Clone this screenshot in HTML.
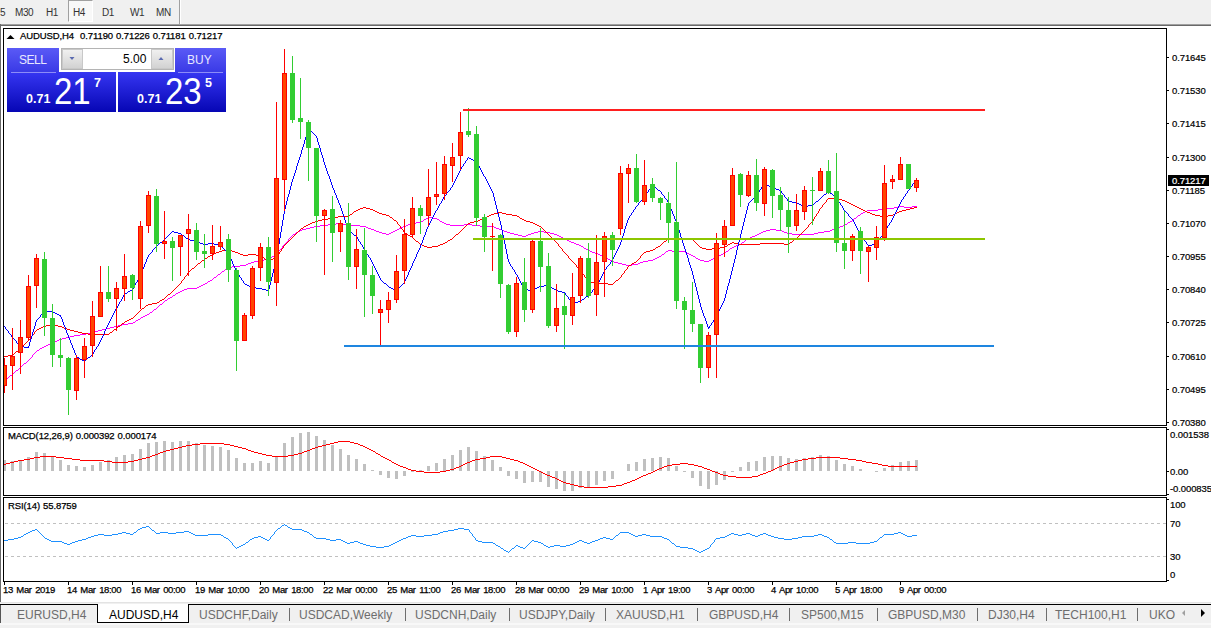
<!DOCTYPE html>
<html><head><meta charset="utf-8"><style>
*{margin:0;padding:0;box-sizing:border-box}
html,body{width:1211px;height:628px;overflow:hidden;background:#fff}
body{position:relative;font-family:"Liberation Sans",Arial,sans-serif;color:#000}
.abs{position:absolute}
#tb{position:absolute;left:0;top:0;width:1211px;height:24px;background:#f0f0f0}
.tf{position:absolute;top:7px;font-size:10px;letter-spacing:-0.4px;line-height:12px;color:#333}
#svg{position:absolute;left:0;top:0}
.pl{position:absolute;left:1172px;font-size:9.5px;letter-spacing:-0.1px;-webkit-text-stroke:0.2px currentColor;line-height:12px;white-space:nowrap}
.tl{position:absolute;top:584px;font-size:9.5px;letter-spacing:-0.35px;word-spacing:1.2px;-webkit-text-stroke:0.25px #000;line-height:12px;white-space:nowrap}
.ct{position:absolute;font-size:9.5px;letter-spacing:-0.1px;word-spacing:0.5px;-webkit-text-stroke:0.25px #000;line-height:12px;white-space:nowrap}
#tabs{position:absolute;left:0;top:602px;width:1211px;height:26px;background:#f0f0f0}
.tab{position:absolute;top:6px;font-size:12px;line-height:14px;color:#6d6d6d;white-space:nowrap}
.sep{position:absolute;top:6px;width:1px;height:13px;background:#6d6d6d}
.pb{position:absolute;font-size:12.5px;line-height:14px;color:#fff;font-weight:bold}
.big{position:absolute;font-size:33px;line-height:34px;color:#fff;transform:scaleY(1.1);transform-origin:0 100%}
</style></head><body>
<div id="tb">
<div class="tf" style="left:0px">5</div>
<div class="tf" style="left:15px">M30</div>
<div class="tf" style="left:46px">H1</div>
<div class="abs" style="left:68px;top:0;width:25px;height:22px;background:#f8f8f8;border-left:1px solid #a0a0a0;border-top:1px solid #a0a0a0;border-right:1px solid #fff;border-bottom:1px solid #fff"></div>
<div class="tf" style="left:73px">H4</div>
<div class="tf" style="left:102px">D1</div>
<div class="tf" style="left:130px">W1</div>
<div class="tf" style="left:156px">MN</div>
<div class="abs" style="left:179px;top:0;width:1px;height:24px;background:#a0a0a0"></div>
<div class="abs" style="left:180px;top:0;width:1px;height:24px;background:#fff"></div>
</div>
<svg id="svg" width="1211" height="628" viewBox="0 0 1211 628">
<defs><clipPath id="cm"><rect x="4" y="29" width="1162" height="396"/></clipPath><clipPath id="cd"><rect x="4" y="428" width="1162" height="67"/></clipPath><clipPath id="cr"><rect x="4" y="498" width="1162" height="83"/></clipPath></defs>
<g clip-path="url(#cm)" shape-rendering="crispEdges">
<path d="M51 343h2v1h-2zM203 284h2v1h-2zM246 264h2v1h-2zM622 264h4v1h-4zM632 264h6v1h-6zM320 225h8v1h-8zM346 225h14v1h-14zM406 225h2v1h-2zM450 225h14v1h-14zM472 225h8v1h-8zM843 225h2v1h-2zM278 251h1v1h-1zM590 251h2v1h-2zM666 251h2v1h-2zM672 251h13v1h-13zM726 251h2v1h-2zM240 265h6v1h-6zM626 265h6v1h-6zM293 234h2v1h-2zM386 234h3v1h-3zM514 234h4v1h-4zM528 234h3v1h-3zM554 234h3v1h-3zM757 234h2v1h-2zM792 234h22v1h-22zM216 276h1v1h-1zM310 227h4v1h-4zM366 227h2v1h-2zM401 227h2v1h-2zM494 227h2v1h-2zM838 227h2v1h-2zM298 231h2v1h-2zM376 231h3v1h-3zM393 231h2v1h-2zM504 231h3v1h-3zM538 231h6v1h-6zM763 231h3v1h-3zM782 231h2v1h-2zM824 231h6v1h-6zM86 333h4v1h-4zM277 253h1v1h-1zM595 253h3v1h-3zM664 253h1v1h-1zM687 253h2v1h-2zM723 253h2v1h-2zM208 281h2v1h-2zM286 242h1v1h-1zM571 242h3v1h-3zM742 242h2v1h-2zM46 345h2v1h-2zM145 315h2v1h-2zM176 293h2v1h-2zM220 273h1v1h-1zM882 208h12v1h-12zM184 289h3v1h-3zM80 334h6v1h-6zM314 226h6v1h-6zM360 226h6v1h-6zM403 226h3v1h-3zM480 226h14v1h-14zM840 226h3v1h-3zM19 368h1v1h-1zM254 261h4v1h-4zM612 261h2v1h-2zM643 261h5v1h-5zM704 261h5v1h-5zM224 270h1v1h-1zM8 377h1v1h-1zM296 232h2v1h-2zM379 232h3v1h-3zM391 232h2v1h-2zM507 232h3v1h-3zM534 232h4v1h-4zM544 232h6v1h-6zM761 232h2v1h-2zM784 232h3v1h-3zM818 232h6v1h-6zM276 254h1v1h-1zM598 254h2v1h-2zM662 254h2v1h-2zM689 254h2v1h-2zM721 254h2v1h-2zM300 230h2v1h-2zM374 230h2v1h-2zM395 230h2v1h-2zM502 230h2v1h-2zM766 230h4v1h-4zM776 230h6v1h-6zM830 230h2v1h-2zM264 259h5v1h-5zM608 259h2v1h-2zM653 259h2v1h-2zM698 259h2v1h-2zM711 259h2v1h-2zM295 233h1v1h-1zM382 233h4v1h-4zM389 233h2v1h-2zM510 233h4v1h-4zM531 233h3v1h-3zM550 233h4v1h-4zM759 233h2v1h-2zM787 233h5v1h-5zM814 233h4v1h-4zM232 266h8v1h-8zM12 374h1v1h-1zM258 260h6v1h-6zM610 260h2v1h-2zM648 260h5v1h-5zM700 260h4v1h-4zM709 260h2v1h-2zM66 337h4v1h-4zM42 347h2v1h-2zM306 228h4v1h-4zM368 228h3v1h-3zM399 228h2v1h-2zM496 228h3v1h-3zM835 228h3v1h-3zM199 286h2v1h-2zM272 256h2v1h-2zM603 256h2v1h-2zM659 256h2v1h-2zM693 256h2v1h-2zM717 256h2v1h-2zM251 262h3v1h-3zM614 262h4v1h-4zM640 262h3v1h-3zM328 224h8v1h-8zM342 224h4v1h-4zM408 224h3v1h-3zM446 224h4v1h-4zM464 224h8v1h-8zM845 224h2v1h-2zM278 252h1v1h-1zM592 252h3v1h-3zM665 252h1v1h-1zM685 252h2v1h-2zM725 252h1v1h-1zM168 298h2v1h-2zM106 328h4v1h-4zM281 248h1v1h-1zM584 248h2v1h-2zM730 248h2v1h-2zM898 206h6v1h-6zM912 206h5v1h-5zM74 335h6v1h-6zM878 209h4v1h-4zM150 312h2v1h-2zM428 217h4v1h-4zM856 217h1v1h-1zM187 288h10v1h-10zM141 317h2v1h-2zM173 295h2v1h-2zM35 352h1v1h-1zM133 322h2v1h-2zM165 300h2v1h-2zM867 210h11v1h-11zM154 309h2v1h-2zM302 229h4v1h-4zM371 229h3v1h-3zM397 229h2v1h-2zM499 229h3v1h-3zM770 229h6v1h-6zM832 229h3v1h-3zM284 244h1v1h-1zM576 244h3v1h-3zM739 244h2v1h-2zM423 220h1v1h-1zM439 220h1v1h-1zM852 220h1v1h-1zM426 218h2v1h-2zM432 218h5v1h-5zM854 218h2v1h-2zM287 241h1v1h-1zM569 241h2v1h-2zM744 241h1v1h-1zM336 223h6v1h-6zM411 223h5v1h-5zM444 223h2v1h-2zM847 223h1v1h-1zM114 326h4v1h-4zM158 306h1v1h-1zM30 358h1v1h-1zM62 338h4v1h-4zM269 258h2v1h-2zM607 258h1v1h-1zM655 258h2v1h-2zM696 258h2v1h-2zM713 258h2v1h-2zM23 364h1v1h-1zM248 263h3v1h-3zM618 263h4v1h-4zM638 263h2v1h-2zM285 243h1v1h-1zM574 243h2v1h-2zM741 243h1v1h-1zM894 207h4v1h-4zM904 207h8v1h-8zM288 239h1v1h-1zM565 239h2v1h-2zM746 239h2v1h-2zM292 235h1v1h-1zM518 235h4v1h-4zM526 235h2v1h-2zM557 235h2v1h-2zM755 235h2v1h-2zM288 240h1v1h-1zM567 240h2v1h-2zM745 240h1v1h-1zM39 349h1v1h-1zM138 319h2v1h-2zM274 255h2v1h-2zM600 255h3v1h-3zM661 255h1v1h-1zM691 255h2v1h-2zM719 255h2v1h-2zM94 331h4v1h-4zM290 237h1v1h-1zM561 237h2v1h-2zM750 237h2v1h-2zM291 236h1v1h-1zM522 236h4v1h-4zM559 236h2v1h-2zM752 236h3v1h-3zM48 344h3v1h-3zM228 267h4v1h-4zM218 274h2v1h-2zM421 221h2v1h-2zM440 221h2v1h-2zM850 221h2v1h-2zM57 340h2v1h-2zM289 238h1v1h-1zM563 238h2v1h-2zM748 238h2v1h-2zM283 245h1v1h-1zM579 245h2v1h-2zM736 245h3v1h-3zM122 324h6v1h-6zM222 271h2v1h-2zM27 361h1v1h-1zM102 329h4v1h-4zM210 280h2v1h-2zM865 211h2v1h-2zM282 246h1v1h-1zM581 246h2v1h-2zM734 246h2v1h-2zM10 375h2v1h-2zM214 277h2v1h-2zM271 257h1v1h-1zM605 257h2v1h-2zM657 257h2v1h-2zM695 257h1v1h-1zM715 257h2v1h-2zM279 250h1v1h-1zM588 250h2v1h-2zM668 250h4v1h-4zM728 250h1v1h-1zM424 219h2v1h-2zM437 219h2v1h-2zM853 219h1v1h-1zM14 372h1v1h-1zM90 332h4v1h-4zM18 369h1v1h-1zM33 354h1v1h-1zM70 336h4v1h-4zM128 323h5v1h-5zM44 346h2v1h-2zM280 249h1v1h-1zM586 249h2v1h-2zM729 249h1v1h-1zM282 247h1v1h-1zM583 247h1v1h-1zM732 247h2v1h-2zM207 282h1v1h-1zM861 213h2v1h-2zM59 339h3v1h-3zM21 366h1v1h-1zM160 304h2v1h-2zM149 313h1v1h-1zM24 363h2v1h-2zM416 222h5v1h-5zM442 222h2v1h-2zM848 222h2v1h-2zM55 341h2v1h-2zM118 325h4v1h-4zM98 330h4v1h-4zM136 320h2v1h-2zM40 348h2v1h-2zM226 268h2v1h-2zM37 350h2v1h-2zM110 327h4v1h-4zM858 215h2v1h-2zM164 301h1v1h-1zM5 379h1v1h-1zM32 356h1v1h-1zM863 212h2v1h-2zM29 359h1v1h-1zM213 278h1v1h-1zM147 314h2v1h-2zM205 283h2v1h-2zM182 290h2v1h-2zM217 275h1v1h-1zM16 370h2v1h-2zM32 355h1v1h-1zM162 303h1v1h-1zM860 214h1v1h-1zM197 287h2v1h-2zM143 316h2v1h-2zM201 285h2v1h-2zM178 292h2v1h-2zM135 321h1v1h-1zM221 272h1v1h-1zM170 297h2v1h-2zM53 342h2v1h-2zM20 367h1v1h-1zM6 378h2v1h-2zM31 357h1v1h-1zM172 296h1v1h-1zM153 310h1v1h-1zM180 291h2v1h-2zM157 307h1v1h-1zM212 279h1v1h-1zM22 365h1v1h-1zM26 362h1v1h-1zM15 371h1v1h-1zM34 353h1v1h-1zM9 376h1v1h-1zM225 269h1v1h-1zM857 216h1v1h-1zM13 373h1v1h-1zM152 311h1v1h-1zM156 308h1v1h-1zM36 351h1v1h-1zM159 305h1v1h-1zM163 302h1v1h-1zM140 318h1v1h-1zM175 294h1v1h-1zM28 360h1v1h-1zM4 380h1v1h-1zM167 299h1v1h-1z" fill="#ff00ff"/>
<path d="M189 271h1v1h-1zM581 271h1v1h-1zM624 271h1v1h-1zM210 255h2v1h-2zM243 255h5v1h-5zM256 255h5v1h-5zM277 255h1v1h-1zM567 255h1v1h-1zM641 255h1v1h-1zM179 284h1v1h-1zM608 284h5v1h-5zM219 251h3v1h-3zM232 251h3v1h-3zM280 251h1v1h-1zM563 251h1v1h-1zM646 251h4v1h-4zM287 242h1v1h-1zM418 242h1v1h-1zM445 242h2v1h-2zM556 242h1v1h-1zM663 242h1v1h-1zM695 242h1v1h-1zM732 242h2v1h-2zM790 242h2v1h-2zM185 276h1v1h-1zM584 276h1v1h-1zM621 276h1v1h-1zM286 243h1v1h-1zM419 243h1v1h-1zM443 243h2v1h-2zM557 243h1v1h-1zM662 243h1v1h-1zM696 243h1v1h-1zM730 243h2v1h-2zM734 243h4v1h-4zM760 243h24v1h-24zM789 243h1v1h-1zM24 344h1v1h-1zM289 240h1v1h-1zM415 240h1v1h-1zM448 240h2v1h-2zM554 240h1v1h-1zM666 240h1v1h-1zM693 240h1v1h-1zM793 240h1v1h-1zM360 208h3v1h-3zM366 208h4v1h-4zM820 208h1v1h-1zM859 208h2v1h-2zM910 208h4v1h-4zM295 234h1v1h-1zM407 234h1v1h-1zM456 234h2v1h-2zM548 234h1v1h-1zM800 234h1v1h-1zM299 230h1v1h-1zM403 230h1v1h-1zM461 230h1v1h-1zM544 230h1v1h-1zM804 230h1v1h-1zM290 239h1v1h-1zM414 239h1v1h-1zM450 239h2v1h-2zM553 239h1v1h-1zM667 239h1v1h-1zM688 239h5v1h-5zM794 239h2v1h-2zM181 281h1v1h-1zM588 281h2v1h-2zM615 281h1v1h-1zM184 277h1v1h-1zM585 277h1v1h-1zM620 277h1v1h-1zM282 248h1v1h-1zM561 248h1v1h-1zM655 248h1v1h-1zM702 248h4v1h-4zM712 248h8v1h-8zM294 235h1v1h-1zM408 235h2v1h-2zM455 235h1v1h-1zM549 235h1v1h-1zM799 235h1v1h-1zM338 216h11v1h-11zM389 216h1v1h-1zM487 216h2v1h-2zM517 216h2v1h-2zM815 216h1v1h-1zM880 216h8v1h-8zM283 247h1v1h-1zM427 247h5v1h-5zM560 247h1v1h-1zM656 247h2v1h-2zM700 247h2v1h-2zM720 247h5v1h-5zM212 254h2v1h-2zM240 254h3v1h-3zM248 254h8v1h-8zM278 254h1v1h-1zM566 254h1v1h-1zM642 254h1v1h-1zM35 331h1v1h-1zM74 331h4v1h-4zM112 331h1v1h-1zM8 355h5v1h-5zM285 244h1v1h-1zM420 244h2v1h-2zM440 244h3v1h-3zM558 244h1v1h-1zM661 244h1v1h-1zM697 244h1v1h-1zM728 244h2v1h-2zM738 244h22v1h-22zM784 244h5v1h-5zM828 198h10v1h-10zM178 285h1v1h-1zM283 246h1v1h-1zM424 246h3v1h-3zM432 246h6v1h-6zM559 246h1v1h-1zM658 246h2v1h-2zM699 246h1v1h-1zM725 246h2v1h-2zM36 330h1v1h-1zM70 330h4v1h-4zM113 330h1v1h-1zM350 214h2v1h-2zM382 214h4v1h-4zM491 214h3v1h-3zM506 214h6v1h-6zM816 214h1v1h-1zM872 214h3v1h-3zM893 214h2v1h-2zM226 249h4v1h-4zM281 249h1v1h-1zM562 249h1v1h-1zM653 249h2v1h-2zM706 249h6v1h-6zM322 219h6v1h-6zM393 219h1v1h-1zM480 219h3v1h-3zM522 219h2v1h-2zM813 219h1v1h-1zM300 229h1v1h-1zM402 229h1v1h-1zM462 229h1v1h-1zM543 229h1v1h-1zM805 229h1v1h-1zM352 213h1v1h-1zM379 213h3v1h-3zM494 213h4v1h-4zM502 213h4v1h-4zM817 213h1v1h-1zM870 213h2v1h-2zM895 213h2v1h-2zM291 238h1v1h-1zM413 238h1v1h-1zM452 238h1v1h-1zM552 238h1v1h-1zM668 238h20v1h-20zM796 238h1v1h-1zM39 328h2v1h-2zM64 328h3v1h-3zM116 328h1v1h-1zM293 236h1v1h-1zM410 236h2v1h-2zM454 236h1v1h-1zM550 236h1v1h-1zM798 236h1v1h-1zM288 241h1v1h-1zM416 241h2v1h-2zM447 241h1v1h-1zM555 241h1v1h-1zM664 241h2v1h-2zM694 241h1v1h-1zM792 241h1v1h-1zM139 311h1v1h-1zM202 260h2v1h-2zM266 260h2v1h-2zM269 260h2v1h-2zM571 260h1v1h-1zM637 260h1v1h-1zM312 222h3v1h-3zM397 222h1v1h-1zM470 222h4v1h-4zM530 222h3v1h-3zM811 222h1v1h-1zM349 215h1v1h-1zM386 215h3v1h-3zM489 215h2v1h-2zM512 215h5v1h-5zM816 215h1v1h-1zM875 215h5v1h-5zM888 215h5v1h-5zM33 334h1v1h-1zM88 334h21v1h-21zM304 226h2v1h-2zM400 226h1v1h-1zM465 226h1v1h-1zM539 226h2v1h-2zM808 226h1v1h-1zM284 245h1v1h-1zM422 245h2v1h-2zM438 245h2v1h-2zM558 245h1v1h-1zM660 245h1v1h-1zM698 245h1v1h-1zM727 245h1v1h-1zM186 275h1v1h-1zM584 275h1v1h-1zM621 275h1v1h-1zM157 302h2v1h-2zM194 267h1v1h-1zM577 267h1v1h-1zM627 267h1v1h-1zM315 221h3v1h-3zM396 221h1v1h-1zM474 221h4v1h-4zM526 221h4v1h-4zM812 221h1v1h-1zM292 237h1v1h-1zM412 237h1v1h-1zM453 237h1v1h-1zM551 237h1v1h-1zM797 237h1v1h-1zM328 218h6v1h-6zM392 218h1v1h-1zM483 218h2v1h-2zM520 218h2v1h-2zM814 218h1v1h-1zM318 220h4v1h-4zM394 220h2v1h-2zM478 220h2v1h-2zM524 220h2v1h-2zM813 220h1v1h-1zM50 324h4v1h-4zM121 324h1v1h-1zM184 278h1v1h-1zM586 278h1v1h-1zM619 278h1v1h-1zM216 252h3v1h-3zM235 252h3v1h-3zM279 252h1v1h-1zM564 252h1v1h-1zM644 252h2v1h-2zM180 283h1v1h-1zM594 283h14v1h-14zM613 283h1v1h-1zM4 356h4v1h-4zM142 308h2v1h-2zM146 305h2v1h-2zM34 332h1v1h-1zM78 332h4v1h-4zM110 332h2v1h-2zM306 225h2v1h-2zM399 225h1v1h-1zM466 225h1v1h-1zM537 225h2v1h-2zM808 225h1v1h-1zM310 223h2v1h-2zM397 223h1v1h-1zM468 223h2v1h-2zM533 223h2v1h-2zM810 223h1v1h-1zM196 265h1v1h-1zM576 265h1v1h-1zM629 265h2v1h-2zM19 349h1v1h-1zM222 250h4v1h-4zM230 250h2v1h-2zM281 250h1v1h-1zM562 250h1v1h-1zM650 250h3v1h-3zM822 206h1v1h-1zM855 206h2v1h-2zM46 325h4v1h-4zM54 325h4v1h-4zM120 325h1v1h-1zM297 232h1v1h-1zM404 232h1v1h-1zM459 232h1v1h-1zM546 232h1v1h-1zM802 232h1v1h-1zM200 262h1v1h-1zM573 262h1v1h-1zM634 262h2v1h-2zM298 231h1v1h-1zM403 231h1v1h-1zM460 231h1v1h-1zM545 231h1v1h-1zM803 231h1v1h-1zM308 224h2v1h-2zM398 224h1v1h-1zM467 224h1v1h-1zM535 224h2v1h-2zM809 224h1v1h-1zM353 212h1v1h-1zM377 212h2v1h-2zM498 212h4v1h-4zM818 212h1v1h-1zM867 212h3v1h-3zM897 212h2v1h-2zM152 303h5v1h-5zM173 290h1v1h-1zM192 268h2v1h-2zM578 268h1v1h-1zM627 268h1v1h-1zM162 299h2v1h-2zM214 253h2v1h-2zM238 253h2v1h-2zM279 253h1v1h-1zM565 253h1v1h-1zM643 253h1v1h-1zM354 211h2v1h-2zM375 211h2v1h-2zM818 211h1v1h-1zM865 211h2v1h-2zM899 211h3v1h-3zM334 217h4v1h-4zM390 217h2v1h-2zM485 217h2v1h-2zM519 217h1v1h-1zM814 217h1v1h-1zM182 280h1v1h-1zM587 280h1v1h-1zM616 280h2v1h-2zM187 274h1v1h-1zM583 274h1v1h-1zM622 274h1v1h-1zM31 336h1v1h-1zM205 258h2v1h-2zM264 258h1v1h-1zM273 258h2v1h-2zM569 258h1v1h-1zM639 258h1v1h-1zM358 209h2v1h-2zM370 209h3v1h-3zM819 209h1v1h-1zM861 209h2v1h-2zM906 209h4v1h-4zM825 202h1v1h-1zM847 202h2v1h-2zM181 282h1v1h-1zM590 282h4v1h-4zM614 282h1v1h-1zM26 342h1v1h-1zM195 266h1v1h-1zM576 266h1v1h-1zM628 266h1v1h-1zM204 259h1v1h-1zM265 259h1v1h-1zM271 259h2v1h-2zM570 259h1v1h-1zM638 259h1v1h-1zM137 313h1v1h-1zM37 329h2v1h-2zM67 329h3v1h-3zM114 329h2v1h-2zM207 257h1v1h-1zM262 257h2v1h-2zM275 257h2v1h-2zM568 257h1v1h-1zM640 257h1v1h-1zM125 321h2v1h-2zM129 319h2v1h-2zM23 345h1v1h-1zM43 326h3v1h-3zM58 326h4v1h-4zM118 326h2v1h-2zM190 270h1v1h-1zM580 270h1v1h-1zM625 270h1v1h-1zM201 261h1v1h-1zM268 261h1v1h-1zM572 261h1v1h-1zM636 261h1v1h-1zM208 256h2v1h-2zM261 256h1v1h-1zM277 256h1v1h-1zM568 256h1v1h-1zM640 256h1v1h-1zM134 316h1v1h-1zM164 298h1v1h-1zM41 327h2v1h-2zM62 327h2v1h-2zM117 327h1v1h-1zM183 279h1v1h-1zM587 279h1v1h-1zM618 279h1v1h-1zM822 205h1v1h-1zM853 205h2v1h-2zM363 207h3v1h-3zM821 207h1v1h-1zM857 207h2v1h-2zM914 207h3v1h-3zM160 300h2v1h-2zM356 210h2v1h-2zM373 210h2v1h-2zM819 210h1v1h-1zM863 210h2v1h-2zM902 210h4v1h-4zM827 199h1v1h-1zM838 199h4v1h-4zM197 264h1v1h-1zM575 264h1v1h-1zM631 264h1v1h-1zM823 204h1v1h-1zM851 204h2v1h-2zM826 200h1v1h-1zM842 200h3v1h-3zM30 338h1v1h-1zM122 323h2v1h-2zM198 263h2v1h-2zM574 263h1v1h-1zM632 263h2v1h-2zM148 304h4v1h-4zM34 333h1v1h-1zM82 333h6v1h-6zM109 333h1v1h-1zM14 353h1v1h-1zM303 227h1v1h-1zM400 227h1v1h-1zM464 227h1v1h-1zM541 227h1v1h-1zM807 227h1v1h-1zM18 350h1v1h-1zM191 269h1v1h-1zM579 269h1v1h-1zM626 269h1v1h-1zM168 294h2v1h-2zM141 309h1v1h-1zM145 306h1v1h-1zM21 347h1v1h-1zM127 320h2v1h-2zM824 203h1v1h-1zM849 203h2v1h-2zM175 288h1v1h-1zM188 272h1v1h-1zM581 272h1v1h-1zM624 272h1v1h-1zM296 233h1v1h-1zM405 233h2v1h-2zM458 233h1v1h-1zM547 233h1v1h-1zM801 233h1v1h-1zM28 340h1v1h-1zM124 322h1v1h-1zM136 314h1v1h-1zM25 343h1v1h-1zM166 296h1v1h-1zM170 293h1v1h-1zM301 228h2v1h-2zM401 228h1v1h-1zM463 228h1v1h-1zM542 228h1v1h-1zM806 228h1v1h-1zM16 351h2v1h-2zM177 286h1v1h-1zM826 201h1v1h-1zM845 201h2v1h-2zM20 348h1v1h-1zM174 289h1v1h-1zM131 318h2v1h-2zM172 291h1v1h-1zM32 335h1v1h-1zM165 297h1v1h-1zM27 341h1v1h-1zM30 337h1v1h-1zM138 312h1v1h-1zM22 346h1v1h-1zM133 317h1v1h-1zM15 352h1v1h-1zM187 273h1v1h-1zM582 273h1v1h-1zM623 273h1v1h-1zM140 310h1v1h-1zM144 307h1v1h-1zM176 287h1v1h-1zM159 301h1v1h-1zM29 339h1v1h-1zM13 354h1v1h-1zM135 315h1v1h-1zM167 295h1v1h-1zM171 292h1v1h-1z" fill="#ff0000"/>
<path d="M295 170h1v1h-1zM326 170h1v1h-1zM460 170h1v1h-1zM481 170h1v1h-1zM171 232h1v1h-1zM174 232h4v1h-4zM280 232h1v1h-1zM350 232h2v1h-2zM425 232h1v1h-1zM502 232h1v1h-1zM624 232h1v1h-1zM679 232h1v1h-1zM741 232h1v1h-1zM859 232h1v1h-1zM883 232h1v1h-1zM36 321h1v1h-1zM62 321h1v1h-1zM109 321h1v1h-1zM706 321h1v1h-1zM713 321h1v1h-1zM288 196h1v1h-1zM336 196h1v1h-1zM444 196h1v1h-1zM493 196h1v1h-1zM644 196h1v1h-1zM664 196h1v1h-1zM755 196h1v1h-1zM784 196h1v1h-1zM822 196h1v1h-1zM834 196h2v1h-2zM904 196h1v1h-1zM42 313h1v1h-1zM55 313h2v1h-2zM113 313h1v1h-1zM703 313h1v1h-1zM717 313h1v1h-1zM289 192h1v1h-1zM334 192h1v1h-1zM447 192h1v1h-1zM492 192h1v1h-1zM647 192h1v1h-1zM661 192h1v1h-1zM758 192h1v1h-1zM781 192h1v1h-1zM827 192h1v1h-1zM829 192h1v1h-1zM907 192h1v1h-1zM141 273h1v1h-1zM237 273h1v1h-1zM272 273h1v1h-1zM377 273h1v1h-1zM408 273h1v1h-1zM515 273h1v1h-1zM603 273h1v1h-1zM692 273h1v1h-1zM731 273h1v1h-1zM286 201h1v1h-1zM338 201h1v1h-1zM441 201h1v1h-1zM495 201h1v1h-1zM640 201h1v1h-1zM667 201h1v1h-1zM750 201h1v1h-1zM788 201h4v1h-4zM816 201h2v1h-2zM838 201h1v1h-1zM901 201h1v1h-1zM285 208h1v1h-1zM341 208h1v1h-1zM437 208h1v1h-1zM496 208h1v1h-1zM635 208h1v1h-1zM670 208h1v1h-1zM747 208h1v1h-1zM843 208h1v1h-1zM897 208h1v1h-1zM284 209h1v1h-1zM341 209h1v1h-1zM437 209h1v1h-1zM497 209h1v1h-1zM634 209h1v1h-1zM671 209h1v1h-1zM747 209h1v1h-1zM843 209h1v1h-1zM897 209h1v1h-1zM159 243h1v1h-1zM200 243h3v1h-3zM208 243h6v1h-6zM279 243h1v1h-1zM360 243h1v1h-1zM421 243h1v1h-1zM504 243h1v1h-1zM620 243h1v1h-1zM683 243h1v1h-1zM738 243h1v1h-1zM866 243h1v1h-1zM877 243h1v1h-1zM299 157h1v1h-1zM322 157h1v1h-1zM468 157h1v1h-1zM307 131h1v1h-1zM311 131h1v1h-1zM121 300h1v1h-1zM570 300h1v1h-1zM581 300h1v1h-1zM699 300h1v1h-1zM724 300h1v1h-1zM282 225h1v1h-1zM346 225h1v1h-1zM428 225h1v1h-1zM501 225h1v1h-1zM626 225h1v1h-1zM677 225h1v1h-1zM743 225h1v1h-1zM855 225h1v1h-1zM888 225h1v1h-1zM146 260h1v1h-1zM231 260h1v1h-1zM276 260h1v1h-1zM371 260h1v1h-1zM414 260h1v1h-1zM508 260h1v1h-1zM612 260h1v1h-1zM688 260h1v1h-1zM734 260h1v1h-1zM283 218h1v1h-1zM344 218h1v1h-1zM432 218h1v1h-1zM499 218h1v1h-1zM628 218h1v1h-1zM674 218h1v1h-1zM744 218h1v1h-1zM851 218h1v1h-1zM892 218h1v1h-1zM145 263h1v1h-1zM232 263h1v1h-1zM275 263h1v1h-1zM372 263h1v1h-1zM412 263h1v1h-1zM509 263h1v1h-1zM610 263h1v1h-1zM689 263h1v1h-1zM733 263h1v1h-1zM149 254h1v1h-1zM228 254h1v1h-1zM277 254h1v1h-1zM367 254h1v1h-1zM416 254h1v1h-1zM507 254h1v1h-1zM615 254h1v1h-1zM686 254h1v1h-1zM736 254h1v1h-1zM158 244h1v1h-1zM203 244h5v1h-5zM214 244h4v1h-4zM278 244h1v1h-1zM361 244h1v1h-1zM421 244h1v1h-1zM505 244h1v1h-1zM620 244h1v1h-1zM683 244h1v1h-1zM738 244h1v1h-1zM867 244h1v1h-1zM872 244h5v1h-5zM307 133h1v1h-1zM313 133h1v1h-1zM287 199h1v1h-1zM337 199h1v1h-1zM442 199h1v1h-1zM494 199h1v1h-1zM642 199h1v1h-1zM666 199h1v1h-1zM752 199h1v1h-1zM787 199h1v1h-1zM819 199h1v1h-1zM837 199h1v1h-1zM902 199h1v1h-1zM134 286h1v1h-1zM249 286h2v1h-2zM269 286h1v1h-1zM388 286h1v1h-1zM400 286h1v1h-1zM522 286h1v1h-1zM539 286h5v1h-5zM549 286h2v1h-2zM596 286h1v1h-1zM695 286h1v1h-1zM727 286h1v1h-1zM122 298h1v1h-1zM568 298h1v1h-1zM584 298h1v1h-1zM698 298h1v1h-1zM724 298h1v1h-1zM168 235h1v1h-1zM182 235h2v1h-2zM280 235h1v1h-1zM354 235h2v1h-2zM424 235h1v1h-1zM503 235h1v1h-1zM623 235h1v1h-1zM680 235h1v1h-1zM740 235h1v1h-1zM860 235h1v1h-1zM882 235h1v1h-1zM130 290h2v1h-2zM266 290h3v1h-3zM395 290h2v1h-2zM528 290h5v1h-5zM556 290h2v1h-2zM592 290h1v1h-1zM696 290h1v1h-1zM726 290h1v1h-1zM117 307h1v1h-1zM701 307h1v1h-1zM720 307h1v1h-1zM133 287h1v1h-1zM251 287h5v1h-5zM269 287h1v1h-1zM389 287h2v1h-2zM399 287h1v1h-1zM523 287h1v1h-1zM537 287h2v1h-2zM551 287h1v1h-1zM595 287h1v1h-1zM696 287h1v1h-1zM727 287h1v1h-1zM162 241h1v1h-1zM194 241h4v1h-4zM279 241h1v1h-1zM359 241h1v1h-1zM422 241h1v1h-1zM504 241h1v1h-1zM621 241h1v1h-1zM682 241h1v1h-1zM739 241h1v1h-1zM865 241h1v1h-1zM878 241h1v1h-1zM152 251h1v1h-1zM226 251h1v1h-1zM277 251h1v1h-1zM365 251h1v1h-1zM418 251h1v1h-1zM506 251h1v1h-1zM616 251h1v1h-1zM685 251h1v1h-1zM736 251h1v1h-1zM20 346h4v1h-4zM28 346h1v1h-1zM72 346h1v1h-1zM97 346h1v1h-1zM285 206h1v1h-1zM340 206h1v1h-1zM438 206h1v1h-1zM496 206h1v1h-1zM636 206h1v1h-1zM670 206h1v1h-1zM747 206h1v1h-1zM803 206h5v1h-5zM842 206h1v1h-1zM898 206h1v1h-1zM296 168h1v1h-1zM326 168h1v1h-1zM461 168h1v1h-1zM480 168h1v1h-1zM35 325h1v1h-1zM64 325h1v1h-1zM107 325h1v1h-1zM707 325h1v1h-1zM710 325h1v1h-1zM304 141h1v1h-1zM317 141h1v1h-1zM122 297h1v1h-1zM568 297h1v1h-1zM585 297h1v1h-1zM698 297h1v1h-1zM725 297h1v1h-1zM172 231h2v1h-2zM281 231h1v1h-1zM349 231h1v1h-1zM426 231h1v1h-1zM502 231h1v1h-1zM624 231h1v1h-1zM679 231h1v1h-1zM741 231h1v1h-1zM858 231h1v1h-1zM884 231h1v1h-1zM128 291h2v1h-2zM558 291h4v1h-4zM592 291h1v1h-1zM697 291h1v1h-1zM726 291h1v1h-1zM140 274h1v1h-1zM238 274h1v1h-1zM272 274h1v1h-1zM378 274h1v1h-1zM408 274h1v1h-1zM516 274h1v1h-1zM602 274h1v1h-1zM692 274h1v1h-1zM731 274h1v1h-1zM282 223h1v1h-1zM346 223h1v1h-1zM429 223h1v1h-1zM500 223h1v1h-1zM626 223h1v1h-1zM676 223h1v1h-1zM743 223h1v1h-1zM854 223h1v1h-1zM889 223h1v1h-1zM287 197h1v1h-1zM336 197h1v1h-1zM443 197h1v1h-1zM494 197h1v1h-1zM643 197h1v1h-1zM664 197h1v1h-1zM754 197h1v1h-1zM785 197h1v1h-1zM821 197h1v1h-1zM836 197h1v1h-1zM903 197h1v1h-1zM286 202h1v1h-1zM338 202h1v1h-1zM441 202h1v1h-1zM495 202h1v1h-1zM639 202h1v1h-1zM668 202h1v1h-1zM749 202h1v1h-1zM792 202h5v1h-5zM815 202h1v1h-1zM839 202h1v1h-1zM900 202h1v1h-1zM163 240h1v1h-1zM190 240h4v1h-4zM279 240h1v1h-1zM358 240h1v1h-1zM422 240h1v1h-1zM504 240h1v1h-1zM621 240h1v1h-1zM682 240h1v1h-1zM739 240h1v1h-1zM864 240h1v1h-1zM878 240h1v1h-1zM36 320h1v1h-1zM62 320h1v1h-1zM110 320h1v1h-1zM705 320h1v1h-1zM713 320h1v1h-1zM294 175h1v1h-1zM328 175h1v1h-1zM457 175h1v1h-1zM483 175h1v1h-1zM286 204h1v1h-1zM339 204h1v1h-1zM439 204h1v1h-1zM495 204h1v1h-1zM638 204h1v1h-1zM669 204h1v1h-1zM748 204h1v1h-1zM799 204h2v1h-2zM813 204h1v1h-1zM840 204h1v1h-1zM899 204h1v1h-1zM290 187h1v1h-1zM332 187h1v1h-1zM451 187h1v1h-1zM490 187h1v1h-1zM651 187h1v1h-1zM654 187h2v1h-2zM761 187h1v1h-1zM771 187h3v1h-3zM910 187h1v1h-1zM160 242h2v1h-2zM198 242h2v1h-2zM279 242h1v1h-1zM360 242h1v1h-1zM422 242h1v1h-1zM504 242h1v1h-1zM620 242h1v1h-1zM682 242h1v1h-1zM738 242h1v1h-1zM866 242h1v1h-1zM877 242h1v1h-1zM140 275h1v1h-1zM239 275h1v1h-1zM272 275h1v1h-1zM378 275h1v1h-1zM407 275h1v1h-1zM517 275h1v1h-1zM602 275h1v1h-1zM693 275h1v1h-1zM730 275h1v1h-1zM39 317h1v1h-1zM61 317h1v1h-1zM111 317h1v1h-1zM704 317h1v1h-1zM715 317h1v1h-1zM9 333h1v1h-1zM32 333h1v1h-1zM67 333h1v1h-1zM104 333h1v1h-1zM143 268h1v1h-1zM235 268h1v1h-1zM274 268h1v1h-1zM375 268h1v1h-1zM410 268h1v1h-1zM512 268h1v1h-1zM606 268h1v1h-1zM691 268h1v1h-1zM732 268h1v1h-1zM166 237h1v1h-1zM185 237h1v1h-1zM280 237h1v1h-1zM357 237h1v1h-1zM423 237h1v1h-1zM503 237h1v1h-1zM622 237h1v1h-1zM681 237h1v1h-1zM740 237h1v1h-1zM862 237h1v1h-1zM880 237h1v1h-1zM10 334h1v1h-1zM32 334h1v1h-1zM67 334h1v1h-1zM103 334h1v1h-1zM136 282h1v1h-1zM243 282h1v1h-1zM270 282h1v1h-1zM383 282h1v1h-1zM404 282h1v1h-1zM520 282h1v1h-1zM598 282h1v1h-1zM694 282h1v1h-1zM729 282h1v1h-1zM148 256h1v1h-1zM229 256h1v1h-1zM276 256h1v1h-1zM368 256h1v1h-1zM416 256h1v1h-1zM507 256h1v1h-1zM614 256h1v1h-1zM687 256h1v1h-1zM735 256h1v1h-1zM132 289h1v1h-1zM262 289h4v1h-4zM268 289h1v1h-1zM393 289h2v1h-2zM397 289h1v1h-1zM524 289h4v1h-4zM533 289h2v1h-2zM554 289h2v1h-2zM593 289h1v1h-1zM696 289h1v1h-1zM727 289h1v1h-1zM137 280h1v1h-1zM242 280h1v1h-1zM271 280h1v1h-1zM381 280h1v1h-1zM405 280h1v1h-1zM519 280h1v1h-1zM599 280h1v1h-1zM694 280h1v1h-1zM729 280h1v1h-1zM281 227h1v1h-1zM347 227h1v1h-1zM427 227h1v1h-1zM501 227h1v1h-1zM625 227h1v1h-1zM678 227h1v1h-1zM742 227h1v1h-1zM856 227h1v1h-1zM887 227h1v1h-1zM115 309h1v1h-1zM701 309h1v1h-1zM719 309h1v1h-1zM127 292h1v1h-1zM562 292h3v1h-3zM591 292h1v1h-1zM697 292h1v1h-1zM726 292h1v1h-1zM5 328h1v1h-1zM34 328h1v1h-1zM65 328h1v1h-1zM106 328h1v1h-1zM708 328h1v1h-1zM150 253h1v1h-1zM228 253h1v1h-1zM277 253h1v1h-1zM366 253h1v1h-1zM417 253h1v1h-1zM506 253h1v1h-1zM615 253h1v1h-1zM686 253h1v1h-1zM736 253h1v1h-1zM170 233h1v1h-1zM178 233h3v1h-3zM280 233h1v1h-1zM352 233h1v1h-1zM425 233h1v1h-1zM502 233h1v1h-1zM623 233h1v1h-1zM680 233h1v1h-1zM741 233h1v1h-1zM859 233h1v1h-1zM883 233h1v1h-1zM302 147h1v1h-1zM319 147h1v1h-1zM293 178h1v1h-1zM329 178h1v1h-1zM456 178h1v1h-1zM485 178h1v1h-1zM296 167h1v1h-1zM325 167h1v1h-1zM461 167h1v1h-1zM479 167h1v1h-1zM284 211h1v1h-1zM342 211h1v1h-1zM435 211h1v1h-1zM497 211h1v1h-1zM633 211h1v1h-1zM672 211h1v1h-1zM746 211h1v1h-1zM845 211h1v1h-1zM896 211h1v1h-1zM282 224h1v1h-1zM346 224h1v1h-1zM429 224h1v1h-1zM500 224h1v1h-1zM626 224h1v1h-1zM677 224h1v1h-1zM743 224h1v1h-1zM855 224h1v1h-1zM889 224h1v1h-1zM287 198h1v1h-1zM337 198h1v1h-1zM443 198h1v1h-1zM494 198h1v1h-1zM642 198h1v1h-1zM665 198h1v1h-1zM753 198h1v1h-1zM786 198h1v1h-1zM820 198h1v1h-1zM837 198h1v1h-1zM903 198h1v1h-1zM283 217h1v1h-1zM344 217h1v1h-1zM432 217h1v1h-1zM499 217h1v1h-1zM629 217h1v1h-1zM674 217h1v1h-1zM745 217h1v1h-1zM850 217h1v1h-1zM893 217h1v1h-1zM285 205h1v1h-1zM340 205h1v1h-1zM439 205h1v1h-1zM496 205h1v1h-1zM637 205h1v1h-1zM669 205h1v1h-1zM748 205h1v1h-1zM801 205h2v1h-2zM808 205h5v1h-5zM841 205h1v1h-1zM899 205h1v1h-1zM291 182h1v1h-1zM331 182h1v1h-1zM454 182h1v1h-1zM487 182h1v1h-1zM914 182h1v1h-1zM35 323h1v1h-1zM63 323h1v1h-1zM108 323h1v1h-1zM706 323h1v1h-1zM711 323h1v1h-1zM282 222h1v1h-1zM345 222h1v1h-1zM430 222h1v1h-1zM500 222h1v1h-1zM627 222h1v1h-1zM676 222h1v1h-1zM743 222h1v1h-1zM854 222h1v1h-1zM890 222h1v1h-1zM283 215h1v1h-1zM343 215h1v1h-1zM433 215h1v1h-1zM498 215h1v1h-1zM630 215h1v1h-1zM673 215h1v1h-1zM745 215h1v1h-1zM848 215h1v1h-1zM894 215h1v1h-1zM304 140h1v1h-1zM317 140h1v1h-1zM290 186h1v1h-1zM332 186h1v1h-1zM452 186h1v1h-1zM489 186h1v1h-1zM651 186h1v1h-1zM653 186h1v1h-1zM762 186h1v1h-1zM769 186h2v1h-2zM911 186h1v1h-1zM281 226h1v1h-1zM347 226h1v1h-1zM428 226h1v1h-1zM501 226h1v1h-1zM625 226h1v1h-1zM677 226h1v1h-1zM742 226h1v1h-1zM856 226h1v1h-1zM887 226h1v1h-1zM147 257h1v1h-1zM230 257h1v1h-1zM276 257h1v1h-1zM369 257h1v1h-1zM415 257h1v1h-1zM507 257h1v1h-1zM613 257h1v1h-1zM687 257h1v1h-1zM735 257h1v1h-1zM289 193h1v1h-1zM335 193h1v1h-1zM446 193h1v1h-1zM493 193h1v1h-1zM646 193h1v1h-1zM661 193h1v1h-1zM757 193h1v1h-1zM782 193h1v1h-1zM826 193h1v1h-1zM830 193h2v1h-2zM906 193h1v1h-1zM134 285h1v1h-1zM247 285h2v1h-2zM269 285h1v1h-1zM387 285h1v1h-1zM401 285h1v1h-1zM522 285h1v1h-1zM544 285h5v1h-5zM597 285h1v1h-1zM695 285h1v1h-1zM728 285h1v1h-1zM301 150h1v1h-1zM320 150h1v1h-1zM11 336h1v1h-1zM31 336h1v1h-1zM68 336h1v1h-1zM102 336h1v1h-1zM144 264h1v1h-1zM233 264h1v1h-1zM275 264h1v1h-1zM373 264h1v1h-1zM412 264h1v1h-1zM510 264h1v1h-1zM609 264h1v1h-1zM689 264h1v1h-1zM733 264h1v1h-1zM120 301h1v1h-1zM571 301h1v1h-1zM578 301h3v1h-3zM699 301h1v1h-1zM723 301h1v1h-1zM290 188h1v1h-1zM333 188h1v1h-1zM450 188h1v1h-1zM490 188h1v1h-1zM650 188h1v1h-1zM656 188h1v1h-1zM761 188h1v1h-1zM774 188h2v1h-2zM909 188h1v1h-1zM289 191h1v1h-1zM334 191h1v1h-1zM448 191h1v1h-1zM492 191h1v1h-1zM648 191h1v1h-1zM660 191h1v1h-1zM759 191h1v1h-1zM781 191h1v1h-1zM828 191h1v1h-1zM907 191h1v1h-1zM167 236h1v1h-1zM184 236h1v1h-1zM280 236h1v1h-1zM356 236h1v1h-1zM424 236h1v1h-1zM503 236h1v1h-1zM622 236h1v1h-1zM680 236h1v1h-1zM740 236h1v1h-1zM861 236h1v1h-1zM881 236h1v1h-1zM118 304h1v1h-1zM700 304h1v1h-1zM722 304h1v1h-1zM288 194h1v1h-1zM335 194h1v1h-1zM446 194h1v1h-1zM493 194h1v1h-1zM645 194h1v1h-1zM662 194h1v1h-1zM757 194h1v1h-1zM783 194h1v1h-1zM824 194h2v1h-2zM832 194h1v1h-1zM905 194h1v1h-1zM283 216h1v1h-1zM343 216h1v1h-1zM433 216h1v1h-1zM498 216h1v1h-1zM629 216h1v1h-1zM674 216h1v1h-1zM745 216h1v1h-1zM849 216h1v1h-1zM893 216h1v1h-1zM135 283h1v1h-1zM244 283h1v1h-1zM270 283h1v1h-1zM384 283h2v1h-2zM403 283h1v1h-1zM521 283h1v1h-1zM598 283h1v1h-1zM695 283h1v1h-1zM728 283h1v1h-1zM282 221h1v1h-1zM345 221h1v1h-1zM430 221h1v1h-1zM500 221h1v1h-1zM627 221h1v1h-1zM676 221h1v1h-1zM744 221h1v1h-1zM853 221h1v1h-1zM891 221h1v1h-1zM142 271h1v1h-1zM236 271h1v1h-1zM273 271h1v1h-1zM376 271h1v1h-1zM409 271h1v1h-1zM514 271h1v1h-1zM604 271h1v1h-1zM692 271h1v1h-1zM731 271h1v1h-1zM16 342h1v1h-1zM29 342h1v1h-1zM70 342h1v1h-1zM99 342h1v1h-1zM165 238h1v1h-1zM186 238h2v1h-2zM279 238h1v1h-1zM357 238h1v1h-1zM423 238h1v1h-1zM503 238h1v1h-1zM622 238h1v1h-1zM681 238h1v1h-1zM739 238h1v1h-1zM862 238h1v1h-1zM880 238h1v1h-1zM296 169h1v1h-1zM326 169h1v1h-1zM460 169h1v1h-1zM480 169h1v1h-1zM80 359h2v1h-2zM86 359h1v1h-1zM13 338h1v1h-1zM31 338h1v1h-1zM69 338h1v1h-1zM101 338h1v1h-1zM144 266h1v1h-1zM234 266h1v1h-1zM274 266h1v1h-1zM374 266h1v1h-1zM411 266h1v1h-1zM511 266h1v1h-1zM607 266h1v1h-1zM690 266h1v1h-1zM733 266h1v1h-1zM4 326h1v1h-1zM34 326h1v1h-1zM64 326h1v1h-1zM107 326h1v1h-1zM707 326h1v1h-1zM709 326h1v1h-1zM141 272h1v1h-1zM237 272h1v1h-1zM273 272h1v1h-1zM377 272h1v1h-1zM408 272h1v1h-1zM515 272h1v1h-1zM603 272h1v1h-1zM692 272h1v1h-1zM731 272h1v1h-1zM287 200h1v1h-1zM338 200h1v1h-1zM442 200h1v1h-1zM494 200h1v1h-1zM641 200h1v1h-1zM667 200h1v1h-1zM751 200h1v1h-1zM787 200h1v1h-1zM818 200h1v1h-1zM838 200h1v1h-1zM901 200h1v1h-1zM292 180h1v1h-1zM330 180h1v1h-1zM455 180h1v1h-1zM486 180h1v1h-1zM915 180h1v1h-1zM44 311h9v1h-9zM114 311h1v1h-1zM702 311h1v1h-1zM718 311h1v1h-1zM282 220h1v1h-1zM345 220h1v1h-1zM431 220h1v1h-1zM499 220h1v1h-1zM627 220h1v1h-1zM675 220h1v1h-1zM744 220h1v1h-1zM853 220h1v1h-1zM891 220h1v1h-1zM135 284h1v1h-1zM245 284h2v1h-2zM270 284h1v1h-1zM386 284h1v1h-1zM402 284h1v1h-1zM521 284h1v1h-1zM597 284h1v1h-1zM695 284h1v1h-1zM728 284h1v1h-1zM74 352h1v1h-1zM93 352h1v1h-1zM288 195h1v1h-1zM336 195h1v1h-1zM445 195h1v1h-1zM493 195h1v1h-1zM645 195h1v1h-1zM663 195h1v1h-1zM756 195h1v1h-1zM784 195h1v1h-1zM823 195h1v1h-1zM833 195h1v1h-1zM905 195h1v1h-1zM305 137h1v1h-1zM316 137h1v1h-1zM16 341h1v1h-1zM30 341h1v1h-1zM70 341h1v1h-1zM100 341h1v1h-1zM152 250h1v1h-1zM225 250h1v1h-1zM277 250h1v1h-1zM365 250h1v1h-1zM418 250h1v1h-1zM506 250h1v1h-1zM617 250h1v1h-1zM685 250h1v1h-1zM736 250h1v1h-1zM19 345h1v1h-1zM29 345h1v1h-1zM72 345h1v1h-1zM98 345h1v1h-1zM289 190h1v1h-1zM334 190h1v1h-1zM449 190h1v1h-1zM491 190h1v1h-1zM648 190h1v1h-1zM658 190h2v1h-2zM759 190h1v1h-1zM779 190h2v1h-2zM908 190h1v1h-1zM138 279h1v1h-1zM241 279h1v1h-1zM271 279h1v1h-1zM380 279h1v1h-1zM405 279h1v1h-1zM519 279h1v1h-1zM600 279h1v1h-1zM694 279h1v1h-1zM729 279h1v1h-1zM133 288h1v1h-1zM256 288h6v1h-6zM269 288h1v1h-1zM391 288h2v1h-2zM398 288h1v1h-1zM523 288h1v1h-1zM535 288h2v1h-2zM552 288h2v1h-2zM594 288h1v1h-1zM696 288h1v1h-1zM727 288h1v1h-1zM295 171h1v1h-1zM327 171h1v1h-1zM459 171h1v1h-1zM481 171h1v1h-1zM142 269h1v1h-1zM235 269h1v1h-1zM273 269h1v1h-1zM375 269h1v1h-1zM410 269h1v1h-1zM513 269h1v1h-1zM605 269h1v1h-1zM691 269h1v1h-1zM732 269h1v1h-1zM123 296h1v1h-1zM567 296h1v1h-1zM586 296h2v1h-2zM698 296h1v1h-1zM725 296h1v1h-1zM281 230h1v1h-1zM348 230h1v1h-1zM426 230h1v1h-1zM502 230h1v1h-1zM624 230h1v1h-1zM679 230h1v1h-1zM741 230h1v1h-1zM858 230h1v1h-1zM885 230h1v1h-1zM291 185h1v1h-1zM332 185h1v1h-1zM452 185h1v1h-1zM489 185h1v1h-1zM652 185h1v1h-1zM763 185h1v1h-1zM767 185h2v1h-2zM912 185h1v1h-1zM8 332h1v1h-1zM32 332h1v1h-1zM66 332h1v1h-1zM104 332h1v1h-1zM143 267h1v1h-1zM234 267h1v1h-1zM274 267h1v1h-1zM374 267h1v1h-1zM411 267h1v1h-1zM512 267h1v1h-1zM606 267h1v1h-1zM690 267h1v1h-1zM732 267h1v1h-1zM299 159h1v1h-1zM323 159h1v1h-1zM467 159h1v1h-1zM471 159h2v1h-2zM148 255h1v1h-1zM229 255h1v1h-1zM277 255h1v1h-1zM368 255h1v1h-1zM416 255h1v1h-1zM507 255h1v1h-1zM614 255h1v1h-1zM687 255h1v1h-1zM735 255h1v1h-1zM7 330h1v1h-1zM33 330h1v1h-1zM66 330h1v1h-1zM105 330h1v1h-1zM5 327h1v1h-1zM34 327h1v1h-1zM65 327h1v1h-1zM106 327h1v1h-1zM708 327h2v1h-2zM300 156h1v1h-1zM322 156h1v1h-1zM285 207h1v1h-1zM340 207h1v1h-1zM438 207h1v1h-1zM496 207h1v1h-1zM635 207h1v1h-1zM670 207h1v1h-1zM747 207h1v1h-1zM842 207h1v1h-1zM898 207h1v1h-1zM296 166h1v1h-1zM325 166h1v1h-1zM462 166h1v1h-1zM479 166h1v1h-1zM146 259h1v1h-1zM231 259h1v1h-1zM276 259h1v1h-1zM370 259h1v1h-1zM414 259h1v1h-1zM508 259h1v1h-1zM612 259h1v1h-1zM688 259h1v1h-1zM734 259h1v1h-1zM286 203h1v1h-1zM339 203h1v1h-1zM440 203h1v1h-1zM495 203h1v1h-1zM638 203h1v1h-1zM668 203h1v1h-1zM748 203h1v1h-1zM797 203h2v1h-2zM814 203h1v1h-1zM840 203h1v1h-1zM900 203h1v1h-1zM40 316h1v1h-1zM60 316h1v1h-1zM112 316h1v1h-1zM704 316h1v1h-1zM716 316h1v1h-1zM139 276h1v1h-1zM239 276h1v1h-1zM272 276h1v1h-1zM379 276h1v1h-1zM407 276h1v1h-1zM517 276h1v1h-1zM601 276h1v1h-1zM693 276h1v1h-1zM730 276h1v1h-1zM283 214h1v1h-1zM343 214h1v1h-1zM434 214h1v1h-1zM498 214h1v1h-1zM631 214h1v1h-1zM673 214h1v1h-1zM745 214h1v1h-1zM848 214h1v1h-1zM894 214h1v1h-1zM11 335h1v1h-1zM32 335h1v1h-1zM68 335h1v1h-1zM103 335h1v1h-1zM119 303h1v1h-1zM572 303h2v1h-2zM700 303h1v1h-1zM722 303h1v1h-1zM12 337h1v1h-1zM31 337h1v1h-1zM68 337h1v1h-1zM102 337h1v1h-1zM298 161h1v1h-1zM323 161h1v1h-1zM465 161h1v1h-1zM475 161h2v1h-2zM291 184h1v1h-1zM331 184h1v1h-1zM453 184h1v1h-1zM488 184h1v1h-1zM763 184h1v1h-1zM765 184h2v1h-2zM912 184h1v1h-1zM75 354h1v1h-1zM92 354h1v1h-1zM281 229h1v1h-1zM348 229h1v1h-1zM426 229h1v1h-1zM501 229h1v1h-1zM624 229h1v1h-1zM678 229h1v1h-1zM742 229h1v1h-1zM857 229h1v1h-1zM885 229h1v1h-1zM137 281h1v1h-1zM243 281h1v1h-1zM270 281h1v1h-1zM382 281h1v1h-1zM404 281h1v1h-1zM520 281h1v1h-1zM599 281h1v1h-1zM694 281h1v1h-1zM729 281h1v1h-1zM125 293h2v1h-2zM565 293h1v1h-1zM590 293h1v1h-1zM697 293h1v1h-1zM726 293h1v1h-1zM138 278h1v1h-1zM241 278h1v1h-1zM271 278h1v1h-1zM380 278h1v1h-1zM406 278h1v1h-1zM518 278h1v1h-1zM600 278h1v1h-1zM693 278h1v1h-1zM730 278h1v1h-1zM302 149h1v1h-1zM320 149h1v1h-1zM38 318h1v1h-1zM61 318h1v1h-1zM111 318h1v1h-1zM705 318h1v1h-1zM715 318h1v1h-1zM151 252h1v1h-1zM227 252h1v1h-1zM277 252h1v1h-1zM366 252h1v1h-1zM417 252h1v1h-1zM506 252h1v1h-1zM616 252h1v1h-1zM686 252h1v1h-1zM736 252h1v1h-1zM284 213h1v1h-1zM342 213h1v1h-1zM434 213h1v1h-1zM498 213h1v1h-1zM631 213h1v1h-1zM672 213h1v1h-1zM746 213h1v1h-1zM847 213h1v1h-1zM895 213h1v1h-1zM118 305h1v1h-1zM700 305h1v1h-1zM721 305h1v1h-1zM294 174h1v1h-1zM328 174h1v1h-1zM458 174h1v1h-1zM483 174h1v1h-1zM281 228h1v1h-1zM347 228h1v1h-1zM427 228h1v1h-1zM501 228h1v1h-1zM625 228h1v1h-1zM678 228h1v1h-1zM742 228h1v1h-1zM857 228h1v1h-1zM886 228h1v1h-1zM82 360h2v1h-2zM85 360h1v1h-1zM8 331h1v1h-1zM33 331h1v1h-1zM66 331h1v1h-1zM104 331h1v1h-1zM119 302h1v1h-1zM571 302h1v1h-1zM574 302h4v1h-4zM699 302h1v1h-1zM723 302h1v1h-1zM43 312h1v1h-1zM53 312h2v1h-2zM114 312h1v1h-1zM702 312h1v1h-1zM718 312h1v1h-1zM301 153h1v1h-1zM321 153h1v1h-1zM284 212h1v1h-1zM342 212h1v1h-1zM435 212h1v1h-1zM497 212h1v1h-1zM632 212h1v1h-1zM672 212h1v1h-1zM746 212h1v1h-1zM846 212h1v1h-1zM895 212h1v1h-1zM164 239h1v1h-1zM188 239h2v1h-2zM279 239h1v1h-1zM358 239h1v1h-1zM423 239h1v1h-1zM503 239h1v1h-1zM621 239h1v1h-1zM681 239h1v1h-1zM739 239h1v1h-1zM863 239h1v1h-1zM879 239h1v1h-1zM37 319h1v1h-1zM62 319h1v1h-1zM110 319h1v1h-1zM705 319h1v1h-1zM714 319h1v1h-1zM301 152h1v1h-1zM321 152h1v1h-1zM117 306h1v1h-1zM700 306h1v1h-1zM721 306h1v1h-1zM35 322h1v1h-1zM63 322h1v1h-1zM109 322h1v1h-1zM706 322h1v1h-1zM712 322h1v1h-1zM154 248h1v1h-1zM223 248h1v1h-1zM278 248h1v1h-1zM363 248h1v1h-1zM419 248h1v1h-1zM505 248h1v1h-1zM618 248h1v1h-1zM684 248h1v1h-1zM737 248h1v1h-1zM147 258h1v1h-1zM230 258h1v1h-1zM276 258h1v1h-1zM370 258h1v1h-1zM415 258h1v1h-1zM507 258h1v1h-1zM613 258h1v1h-1zM688 258h1v1h-1zM735 258h1v1h-1zM157 245h1v1h-1zM218 245h3v1h-3zM278 245h1v1h-1zM362 245h1v1h-1zM420 245h1v1h-1zM505 245h1v1h-1zM619 245h1v1h-1zM683 245h1v1h-1zM738 245h1v1h-1zM868 245h4v1h-4zM153 249h1v1h-1zM224 249h1v1h-1zM278 249h1v1h-1zM364 249h1v1h-1zM419 249h1v1h-1zM506 249h1v1h-1zM617 249h1v1h-1zM685 249h1v1h-1zM737 249h1v1h-1zM18 344h1v1h-1zM29 344h1v1h-1zM71 344h1v1h-1zM98 344h1v1h-1zM139 277h1v1h-1zM240 277h1v1h-1zM271 277h1v1h-1zM379 277h1v1h-1zM406 277h1v1h-1zM518 277h1v1h-1zM601 277h1v1h-1zM693 277h1v1h-1zM730 277h1v1h-1zM74 351h1v1h-1zM94 351h1v1h-1zM77 357h2v1h-2zM88 357h2v1h-2zM284 210h1v1h-1zM341 210h1v1h-1zM436 210h1v1h-1zM497 210h1v1h-1zM633 210h1v1h-1zM671 210h1v1h-1zM746 210h1v1h-1zM844 210h1v1h-1zM896 210h1v1h-1zM300 154h1v1h-1zM321 154h1v1h-1zM6 329h1v1h-1zM33 329h1v1h-1zM65 329h1v1h-1zM105 329h1v1h-1zM283 219h1v1h-1zM344 219h1v1h-1zM431 219h1v1h-1zM499 219h1v1h-1zM628 219h1v1h-1zM675 219h1v1h-1zM744 219h1v1h-1zM852 219h1v1h-1zM892 219h1v1h-1zM293 177h1v1h-1zM329 177h1v1h-1zM456 177h1v1h-1zM485 177h1v1h-1zM142 270h1v1h-1zM236 270h1v1h-1zM273 270h1v1h-1zM376 270h1v1h-1zM409 270h1v1h-1zM514 270h1v1h-1zM604 270h1v1h-1zM691 270h1v1h-1zM732 270h1v1h-1zM300 155h1v1h-1zM322 155h1v1h-1zM146 261h1v1h-1zM232 261h1v1h-1zM275 261h1v1h-1zM371 261h1v1h-1zM413 261h1v1h-1zM508 261h1v1h-1zM611 261h1v1h-1zM688 261h1v1h-1zM734 261h1v1h-1zM304 142h1v1h-1zM318 142h1v1h-1zM116 308h1v1h-1zM701 308h1v1h-1zM720 308h1v1h-1zM35 324h1v1h-1zM63 324h1v1h-1zM108 324h1v1h-1zM707 324h1v1h-1zM711 324h1v1h-1zM156 246h1v1h-1zM221 246h1v1h-1zM278 246h1v1h-1zM362 246h1v1h-1zM420 246h1v1h-1zM505 246h1v1h-1zM619 246h1v1h-1zM684 246h1v1h-1zM737 246h1v1h-1zM115 310h1v1h-1zM702 310h1v1h-1zM719 310h1v1h-1zM303 144h1v1h-1zM318 144h1v1h-1zM169 234h1v1h-1zM181 234h1v1h-1zM280 234h1v1h-1zM353 234h1v1h-1zM425 234h1v1h-1zM502 234h1v1h-1zM623 234h1v1h-1zM680 234h1v1h-1zM740 234h1v1h-1zM860 234h1v1h-1zM882 234h1v1h-1zM144 265h1v1h-1zM233 265h1v1h-1zM274 265h1v1h-1zM373 265h1v1h-1zM412 265h1v1h-1zM510 265h1v1h-1zM608 265h1v1h-1zM690 265h1v1h-1zM733 265h1v1h-1zM291 183h1v1h-1zM331 183h1v1h-1zM453 183h1v1h-1zM488 183h1v1h-1zM764 183h1v1h-1zM913 183h1v1h-1zM84 361h1v1h-1zM76 356h1v1h-1zM90 356h1v1h-1zM155 247h1v1h-1zM222 247h1v1h-1zM278 247h1v1h-1zM363 247h1v1h-1zM420 247h1v1h-1zM505 247h1v1h-1zM618 247h1v1h-1zM684 247h1v1h-1zM737 247h1v1h-1zM297 163h1v1h-1zM324 163h1v1h-1zM464 163h1v1h-1zM477 163h1v1h-1zM306 134h1v1h-1zM314 134h1v1h-1zM14 339h1v1h-1zM30 339h1v1h-1zM69 339h1v1h-1zM101 339h1v1h-1zM292 179h1v1h-1zM330 179h1v1h-1zM455 179h1v1h-1zM486 179h1v1h-1zM916 179h1v1h-1zM123 295h1v1h-1zM566 295h1v1h-1zM588 295h1v1h-1zM698 295h1v1h-1zM725 295h1v1h-1zM290 189h1v1h-1zM333 189h1v1h-1zM450 189h1v1h-1zM491 189h1v1h-1zM649 189h1v1h-1zM657 189h1v1h-1zM760 189h1v1h-1zM776 189h3v1h-3zM909 189h1v1h-1zM292 181h1v1h-1zM330 181h1v1h-1zM454 181h1v1h-1zM487 181h1v1h-1zM915 181h1v1h-1zM75 353h1v1h-1zM93 353h1v1h-1zM17 343h1v1h-1zM29 343h1v1h-1zM71 343h1v1h-1zM99 343h1v1h-1zM295 172h1v1h-1zM327 172h1v1h-1zM459 172h1v1h-1zM482 172h1v1h-1zM294 173h1v1h-1zM327 173h1v1h-1zM458 173h1v1h-1zM482 173h1v1h-1zM303 146h1v1h-1zM319 146h1v1h-1zM124 294h1v1h-1zM565 294h1v1h-1zM589 294h1v1h-1zM697 294h1v1h-1zM725 294h1v1h-1zM298 162h1v1h-1zM324 162h1v1h-1zM465 162h1v1h-1zM477 162h1v1h-1zM76 355h1v1h-1zM91 355h1v1h-1zM15 340h1v1h-1zM30 340h1v1h-1zM70 340h1v1h-1zM100 340h1v1h-1zM145 262h1v1h-1zM232 262h1v1h-1zM275 262h1v1h-1zM372 262h1v1h-1zM413 262h1v1h-1zM509 262h1v1h-1zM610 262h1v1h-1zM689 262h1v1h-1zM734 262h1v1h-1zM24 347h5v1h-5zM72 347h1v1h-1zM96 347h1v1h-1zM293 176h1v1h-1zM329 176h1v1h-1zM457 176h1v1h-1zM484 176h1v1h-1zM73 349h1v1h-1zM95 349h1v1h-1zM306 136h1v1h-1zM316 136h1v1h-1zM303 145h1v1h-1zM319 145h1v1h-1zM304 143h1v1h-1zM318 143h1v1h-1zM121 299h1v1h-1zM569 299h1v1h-1zM582 299h2v1h-2zM699 299h1v1h-1zM724 299h1v1h-1zM307 132h1v1h-1zM312 132h1v1h-1zM297 164h1v1h-1zM324 164h1v1h-1zM463 164h1v1h-1zM478 164h1v1h-1zM40 315h1v1h-1zM59 315h2v1h-2zM112 315h1v1h-1zM703 315h1v1h-1zM716 315h1v1h-1zM298 160h1v1h-1zM323 160h1v1h-1zM466 160h1v1h-1zM473 160h2v1h-2zM306 135h1v1h-1zM315 135h1v1h-1zM79 358h1v1h-1zM87 358h1v1h-1zM74 350h1v1h-1zM94 350h1v1h-1zM41 314h1v1h-1zM57 314h2v1h-2zM113 314h1v1h-1zM703 314h1v1h-1zM717 314h1v1h-1zM305 138h1v1h-1zM317 138h1v1h-1zM297 165h1v1h-1zM325 165h1v1h-1zM463 165h1v1h-1zM478 165h1v1h-1zM302 148h1v1h-1zM320 148h1v1h-1zM299 158h1v1h-1zM323 158h1v1h-1zM467 158h1v1h-1zM469 158h2v1h-2zM308 128h1v1h-1zM73 348h1v1h-1zM96 348h1v1h-1zM307 130h1v1h-1zM310 130h1v1h-1zM305 139h1v1h-1zM317 139h1v1h-1zM308 129h2v1h-2zM301 151h1v1h-1zM320 151h1v1h-1z" fill="#0000ff"/>
<rect x="4" y="358" width="1" height="35" fill="#ff0000"/>
<rect x="2" y="365" width="5" height="21" fill="#ff0000"/>
<rect x="3" y="366" width="3" height="19" fill="#ff4500"/>
<rect x="12" y="328" width="1" height="62" fill="#ff0000"/>
<rect x="10" y="356" width="5" height="10" fill="#ff0000"/>
<rect x="11" y="357" width="3" height="8" fill="#ff4500"/>
<rect x="20" y="320" width="1" height="54" fill="#ff0000"/>
<rect x="18" y="337" width="5" height="16" fill="#ff0000"/>
<rect x="19" y="338" width="3" height="14" fill="#ff4500"/>
<rect x="28" y="275" width="1" height="65" fill="#ff0000"/>
<rect x="26" y="286" width="5" height="52" fill="#ff0000"/>
<rect x="27" y="287" width="3" height="50" fill="#ff4500"/>
<rect x="36" y="254" width="1" height="54" fill="#ff0000"/>
<rect x="34" y="258" width="5" height="28" fill="#ff0000"/>
<rect x="35" y="259" width="3" height="26" fill="#ff4500"/>
<rect x="44" y="252" width="1" height="84" fill="#32cd32"/>
<rect x="42" y="259" width="5" height="59" fill="#32cd32"/>
<rect x="52" y="304" width="1" height="63" fill="#32cd32"/>
<rect x="50" y="318" width="5" height="37" fill="#32cd32"/>
<rect x="60" y="338" width="1" height="29" fill="#32cd32"/>
<rect x="58" y="355" width="5" height="3" fill="#32cd32"/>
<rect x="68" y="357" width="1" height="58" fill="#32cd32"/>
<rect x="66" y="358" width="5" height="32" fill="#32cd32"/>
<rect x="76" y="355" width="1" height="45" fill="#ff0000"/>
<rect x="74" y="358" width="5" height="33" fill="#ff0000"/>
<rect x="75" y="359" width="3" height="31" fill="#ff4500"/>
<rect x="84" y="338" width="1" height="40" fill="#ff0000"/>
<rect x="82" y="346" width="5" height="14" fill="#ff0000"/>
<rect x="83" y="347" width="3" height="12" fill="#ff4500"/>
<rect x="92" y="301" width="1" height="56" fill="#ff0000"/>
<rect x="90" y="316" width="5" height="30" fill="#ff0000"/>
<rect x="91" y="317" width="3" height="28" fill="#ff4500"/>
<rect x="100" y="266" width="1" height="51" fill="#ff0000"/>
<rect x="98" y="292" width="5" height="25" fill="#ff0000"/>
<rect x="99" y="293" width="3" height="23" fill="#ff4500"/>
<rect x="108" y="266" width="1" height="36" fill="#32cd32"/>
<rect x="106" y="292" width="5" height="7" fill="#32cd32"/>
<rect x="116" y="282" width="1" height="49" fill="#ff0000"/>
<rect x="114" y="288" width="5" height="11" fill="#ff0000"/>
<rect x="115" y="289" width="3" height="9" fill="#ff4500"/>
<rect x="124" y="254" width="1" height="47" fill="#ff0000"/>
<rect x="122" y="276" width="5" height="13" fill="#ff0000"/>
<rect x="123" y="277" width="3" height="11" fill="#ff4500"/>
<rect x="132" y="274" width="1" height="26" fill="#32cd32"/>
<rect x="130" y="275" width="5" height="13" fill="#32cd32"/>
<rect x="140" y="221" width="1" height="88" fill="#ff0000"/>
<rect x="138" y="226" width="5" height="73" fill="#ff0000"/>
<rect x="139" y="227" width="3" height="71" fill="#ff4500"/>
<rect x="148" y="191" width="1" height="42" fill="#ff0000"/>
<rect x="146" y="195" width="5" height="31" fill="#ff0000"/>
<rect x="147" y="196" width="3" height="29" fill="#ff4500"/>
<rect x="156" y="189" width="1" height="63" fill="#32cd32"/>
<rect x="154" y="196" width="5" height="48" fill="#32cd32"/>
<rect x="164" y="211" width="1" height="48" fill="#ff0000"/>
<rect x="162" y="241" width="5" height="3" fill="#ff0000"/>
<rect x="163" y="242" width="3" height="1" fill="#ff4500"/>
<rect x="172" y="237" width="1" height="44" fill="#32cd32"/>
<rect x="170" y="241" width="5" height="7" fill="#32cd32"/>
<rect x="180" y="235" width="1" height="41" fill="#ff0000"/>
<rect x="178" y="235" width="5" height="12" fill="#ff0000"/>
<rect x="179" y="236" width="3" height="10" fill="#ff4500"/>
<rect x="188" y="214" width="1" height="62" fill="#ff0000"/>
<rect x="186" y="229" width="5" height="5" fill="#ff0000"/>
<rect x="187" y="230" width="3" height="3" fill="#ff4500"/>
<rect x="196" y="223" width="1" height="37" fill="#32cd32"/>
<rect x="194" y="230" width="5" height="22" fill="#32cd32"/>
<rect x="204" y="234" width="1" height="34" fill="#32cd32"/>
<rect x="202" y="251" width="5" height="3" fill="#32cd32"/>
<rect x="212" y="225" width="1" height="35" fill="#ff0000"/>
<rect x="210" y="246" width="5" height="8" fill="#ff0000"/>
<rect x="211" y="247" width="3" height="6" fill="#ff4500"/>
<rect x="220" y="226" width="1" height="24" fill="#ff0000"/>
<rect x="218" y="242" width="5" height="5" fill="#ff0000"/>
<rect x="219" y="243" width="3" height="3" fill="#ff4500"/>
<rect x="228" y="234" width="1" height="48" fill="#32cd32"/>
<rect x="226" y="239" width="5" height="31" fill="#32cd32"/>
<rect x="236" y="268" width="1" height="103" fill="#32cd32"/>
<rect x="234" y="270" width="5" height="71" fill="#32cd32"/>
<rect x="244" y="313" width="1" height="28" fill="#ff0000"/>
<rect x="242" y="315" width="5" height="26" fill="#ff0000"/>
<rect x="243" y="316" width="3" height="24" fill="#ff4500"/>
<rect x="252" y="266" width="1" height="53" fill="#ff0000"/>
<rect x="250" y="268" width="5" height="48" fill="#ff0000"/>
<rect x="251" y="269" width="3" height="46" fill="#ff4500"/>
<rect x="260" y="243" width="1" height="38" fill="#ff0000"/>
<rect x="258" y="247" width="5" height="21" fill="#ff0000"/>
<rect x="259" y="248" width="3" height="19" fill="#ff4500"/>
<rect x="268" y="237" width="1" height="59" fill="#32cd32"/>
<rect x="266" y="247" width="5" height="35" fill="#32cd32"/>
<rect x="276" y="102" width="1" height="204" fill="#ff0000"/>
<rect x="274" y="178" width="5" height="105" fill="#ff0000"/>
<rect x="275" y="179" width="3" height="103" fill="#ff4500"/>
<rect x="284" y="49" width="1" height="162" fill="#ff0000"/>
<rect x="282" y="73" width="5" height="107" fill="#ff0000"/>
<rect x="283" y="74" width="3" height="105" fill="#ff4500"/>
<rect x="292" y="56" width="1" height="67" fill="#32cd32"/>
<rect x="290" y="73" width="5" height="47" fill="#32cd32"/>
<rect x="300" y="78" width="1" height="61" fill="#32cd32"/>
<rect x="298" y="118" width="5" height="4" fill="#32cd32"/>
<rect x="308" y="120" width="1" height="61" fill="#32cd32"/>
<rect x="306" y="122" width="5" height="26" fill="#32cd32"/>
<rect x="316" y="148" width="1" height="94" fill="#32cd32"/>
<rect x="314" y="148" width="5" height="68" fill="#32cd32"/>
<rect x="324" y="209" width="1" height="66" fill="#ff0000"/>
<rect x="322" y="210" width="5" height="6" fill="#ff0000"/>
<rect x="323" y="211" width="3" height="4" fill="#ff4500"/>
<rect x="332" y="196" width="1" height="66" fill="#32cd32"/>
<rect x="330" y="209" width="5" height="24" fill="#32cd32"/>
<rect x="340" y="220" width="1" height="32" fill="#ff0000"/>
<rect x="338" y="223" width="5" height="9" fill="#ff0000"/>
<rect x="339" y="224" width="3" height="7" fill="#ff4500"/>
<rect x="348" y="203" width="1" height="77" fill="#32cd32"/>
<rect x="346" y="223" width="5" height="44" fill="#32cd32"/>
<rect x="356" y="229" width="1" height="60" fill="#ff0000"/>
<rect x="354" y="249" width="5" height="18" fill="#ff0000"/>
<rect x="355" y="250" width="3" height="16" fill="#ff4500"/>
<rect x="364" y="228" width="1" height="89" fill="#32cd32"/>
<rect x="362" y="250" width="5" height="25" fill="#32cd32"/>
<rect x="372" y="266" width="1" height="48" fill="#32cd32"/>
<rect x="370" y="275" width="5" height="21" fill="#32cd32"/>
<rect x="380" y="300" width="1" height="45" fill="#ff0000"/>
<rect x="378" y="309" width="5" height="4" fill="#ff0000"/>
<rect x="379" y="310" width="3" height="2" fill="#ff4500"/>
<rect x="388" y="292" width="1" height="31" fill="#ff0000"/>
<rect x="386" y="300" width="5" height="10" fill="#ff0000"/>
<rect x="387" y="301" width="3" height="8" fill="#ff4500"/>
<rect x="396" y="255" width="1" height="48" fill="#ff0000"/>
<rect x="394" y="271" width="5" height="29" fill="#ff0000"/>
<rect x="395" y="272" width="3" height="27" fill="#ff4500"/>
<rect x="404" y="219" width="1" height="65" fill="#ff0000"/>
<rect x="402" y="234" width="5" height="37" fill="#ff0000"/>
<rect x="403" y="235" width="3" height="35" fill="#ff4500"/>
<rect x="412" y="197" width="1" height="41" fill="#ff0000"/>
<rect x="410" y="208" width="5" height="27" fill="#ff0000"/>
<rect x="411" y="209" width="3" height="25" fill="#ff4500"/>
<rect x="420" y="205" width="1" height="29" fill="#32cd32"/>
<rect x="418" y="208" width="5" height="8" fill="#32cd32"/>
<rect x="428" y="169" width="1" height="57" fill="#ff0000"/>
<rect x="426" y="197" width="5" height="19" fill="#ff0000"/>
<rect x="427" y="198" width="3" height="17" fill="#ff4500"/>
<rect x="436" y="162" width="1" height="43" fill="#ff0000"/>
<rect x="434" y="194" width="5" height="3" fill="#ff0000"/>
<rect x="435" y="195" width="3" height="1" fill="#ff4500"/>
<rect x="444" y="156" width="1" height="44" fill="#ff0000"/>
<rect x="442" y="164" width="5" height="30" fill="#ff0000"/>
<rect x="443" y="165" width="3" height="28" fill="#ff4500"/>
<rect x="452" y="143" width="1" height="39" fill="#ff0000"/>
<rect x="450" y="157" width="5" height="9" fill="#ff0000"/>
<rect x="451" y="158" width="3" height="7" fill="#ff4500"/>
<rect x="460" y="112" width="1" height="58" fill="#ff0000"/>
<rect x="458" y="132" width="5" height="24" fill="#ff0000"/>
<rect x="459" y="133" width="3" height="22" fill="#ff4500"/>
<rect x="468" y="108" width="1" height="29" fill="#32cd32"/>
<rect x="466" y="131" width="5" height="4" fill="#32cd32"/>
<rect x="476" y="126" width="1" height="100" fill="#32cd32"/>
<rect x="474" y="134" width="5" height="84" fill="#32cd32"/>
<rect x="484" y="214" width="1" height="38" fill="#32cd32"/>
<rect x="482" y="217" width="5" height="20" fill="#32cd32"/>
<rect x="492" y="223" width="1" height="48" fill="#ff0000"/>
<rect x="490" y="236" width="5" height="1" fill="#ff0000"/>
<rect x="500" y="234" width="1" height="64" fill="#32cd32"/>
<rect x="498" y="235" width="5" height="49" fill="#32cd32"/>
<rect x="508" y="284" width="1" height="50" fill="#32cd32"/>
<rect x="506" y="285" width="5" height="47" fill="#32cd32"/>
<rect x="516" y="277" width="1" height="60" fill="#ff0000"/>
<rect x="514" y="283" width="5" height="49" fill="#ff0000"/>
<rect x="515" y="284" width="3" height="47" fill="#ff4500"/>
<rect x="524" y="258" width="1" height="64" fill="#32cd32"/>
<rect x="522" y="282" width="5" height="28" fill="#32cd32"/>
<rect x="532" y="240" width="1" height="73" fill="#ff0000"/>
<rect x="530" y="241" width="5" height="69" fill="#ff0000"/>
<rect x="531" y="242" width="3" height="67" fill="#ff4500"/>
<rect x="540" y="228" width="1" height="64" fill="#32cd32"/>
<rect x="538" y="241" width="5" height="26" fill="#32cd32"/>
<rect x="548" y="253" width="1" height="75" fill="#32cd32"/>
<rect x="546" y="266" width="5" height="60" fill="#32cd32"/>
<rect x="556" y="284" width="1" height="48" fill="#ff0000"/>
<rect x="554" y="308" width="5" height="18" fill="#ff0000"/>
<rect x="555" y="309" width="3" height="16" fill="#ff4500"/>
<rect x="564" y="293" width="1" height="56" fill="#32cd32"/>
<rect x="562" y="306" width="5" height="9" fill="#32cd32"/>
<rect x="572" y="273" width="1" height="52" fill="#ff0000"/>
<rect x="570" y="297" width="5" height="19" fill="#ff0000"/>
<rect x="571" y="298" width="3" height="17" fill="#ff4500"/>
<rect x="580" y="256" width="1" height="47" fill="#ff0000"/>
<rect x="578" y="258" width="5" height="38" fill="#ff0000"/>
<rect x="579" y="259" width="3" height="36" fill="#ff4500"/>
<rect x="588" y="243" width="1" height="55" fill="#32cd32"/>
<rect x="586" y="258" width="5" height="38" fill="#32cd32"/>
<rect x="596" y="235" width="1" height="81" fill="#ff0000"/>
<rect x="594" y="262" width="5" height="33" fill="#ff0000"/>
<rect x="595" y="263" width="3" height="31" fill="#ff4500"/>
<rect x="604" y="232" width="1" height="65" fill="#ff0000"/>
<rect x="602" y="236" width="5" height="26" fill="#ff0000"/>
<rect x="603" y="237" width="3" height="24" fill="#ff4500"/>
<rect x="612" y="232" width="1" height="34" fill="#32cd32"/>
<rect x="610" y="235" width="5" height="15" fill="#32cd32"/>
<rect x="620" y="166" width="1" height="69" fill="#ff0000"/>
<rect x="618" y="173" width="5" height="56" fill="#ff0000"/>
<rect x="619" y="174" width="3" height="54" fill="#ff4500"/>
<rect x="628" y="164" width="1" height="39" fill="#ff0000"/>
<rect x="626" y="168" width="5" height="6" fill="#ff0000"/>
<rect x="627" y="169" width="3" height="4" fill="#ff4500"/>
<rect x="636" y="154" width="1" height="49" fill="#32cd32"/>
<rect x="634" y="168" width="5" height="34" fill="#32cd32"/>
<rect x="644" y="160" width="1" height="45" fill="#ff0000"/>
<rect x="642" y="185" width="5" height="17" fill="#ff0000"/>
<rect x="643" y="186" width="3" height="15" fill="#ff4500"/>
<rect x="652" y="178" width="1" height="24" fill="#32cd32"/>
<rect x="650" y="184" width="5" height="14" fill="#32cd32"/>
<rect x="660" y="197" width="1" height="23" fill="#32cd32"/>
<rect x="658" y="198" width="5" height="5" fill="#32cd32"/>
<rect x="668" y="192" width="1" height="51" fill="#32cd32"/>
<rect x="666" y="203" width="5" height="20" fill="#32cd32"/>
<rect x="676" y="162" width="1" height="147" fill="#32cd32"/>
<rect x="674" y="222" width="5" height="79" fill="#32cd32"/>
<rect x="684" y="297" width="1" height="52" fill="#32cd32"/>
<rect x="682" y="301" width="5" height="9" fill="#32cd32"/>
<rect x="692" y="282" width="1" height="50" fill="#32cd32"/>
<rect x="690" y="310" width="5" height="14" fill="#32cd32"/>
<rect x="700" y="324" width="1" height="59" fill="#32cd32"/>
<rect x="698" y="324" width="5" height="44" fill="#32cd32"/>
<rect x="708" y="332" width="1" height="46" fill="#ff0000"/>
<rect x="706" y="335" width="5" height="33" fill="#ff0000"/>
<rect x="707" y="336" width="3" height="31" fill="#ff4500"/>
<rect x="716" y="233" width="1" height="145" fill="#ff0000"/>
<rect x="714" y="243" width="5" height="92" fill="#ff0000"/>
<rect x="715" y="244" width="3" height="90" fill="#ff4500"/>
<rect x="724" y="220" width="1" height="37" fill="#ff0000"/>
<rect x="722" y="226" width="5" height="19" fill="#ff0000"/>
<rect x="723" y="227" width="3" height="17" fill="#ff4500"/>
<rect x="732" y="168" width="1" height="58" fill="#ff0000"/>
<rect x="730" y="175" width="5" height="51" fill="#ff0000"/>
<rect x="731" y="176" width="3" height="49" fill="#ff4500"/>
<rect x="740" y="173" width="1" height="34" fill="#32cd32"/>
<rect x="738" y="174" width="5" height="21" fill="#32cd32"/>
<rect x="748" y="171" width="1" height="26" fill="#ff0000"/>
<rect x="746" y="175" width="5" height="21" fill="#ff0000"/>
<rect x="747" y="176" width="3" height="19" fill="#ff4500"/>
<rect x="756" y="159" width="1" height="52" fill="#32cd32"/>
<rect x="754" y="175" width="5" height="28" fill="#32cd32"/>
<rect x="764" y="167" width="1" height="49" fill="#ff0000"/>
<rect x="762" y="169" width="5" height="35" fill="#ff0000"/>
<rect x="763" y="170" width="3" height="33" fill="#ff4500"/>
<rect x="772" y="169" width="1" height="49" fill="#32cd32"/>
<rect x="770" y="170" width="5" height="26" fill="#32cd32"/>
<rect x="780" y="187" width="1" height="44" fill="#32cd32"/>
<rect x="778" y="195" width="5" height="15" fill="#32cd32"/>
<rect x="788" y="197" width="1" height="56" fill="#32cd32"/>
<rect x="786" y="210" width="5" height="17" fill="#32cd32"/>
<rect x="796" y="194" width="1" height="37" fill="#ff0000"/>
<rect x="794" y="210" width="5" height="16" fill="#ff0000"/>
<rect x="795" y="211" width="3" height="14" fill="#ff4500"/>
<rect x="804" y="186" width="1" height="34" fill="#ff0000"/>
<rect x="802" y="190" width="5" height="22" fill="#ff0000"/>
<rect x="803" y="191" width="3" height="20" fill="#ff4500"/>
<rect x="812" y="177" width="1" height="48" fill="#32cd32"/>
<rect x="810" y="190" width="5" height="1" fill="#32cd32"/>
<rect x="820" y="168" width="1" height="23" fill="#ff0000"/>
<rect x="818" y="171" width="5" height="20" fill="#ff0000"/>
<rect x="819" y="172" width="3" height="18" fill="#ff4500"/>
<rect x="828" y="160" width="1" height="34" fill="#32cd32"/>
<rect x="826" y="171" width="5" height="22" fill="#32cd32"/>
<rect x="836" y="153" width="1" height="99" fill="#32cd32"/>
<rect x="834" y="191" width="5" height="52" fill="#32cd32"/>
<rect x="844" y="211" width="1" height="58" fill="#32cd32"/>
<rect x="842" y="243" width="5" height="8" fill="#32cd32"/>
<rect x="852" y="234" width="1" height="27" fill="#ff0000"/>
<rect x="850" y="236" width="5" height="15" fill="#ff0000"/>
<rect x="851" y="237" width="3" height="13" fill="#ff4500"/>
<rect x="860" y="227" width="1" height="47" fill="#32cd32"/>
<rect x="858" y="231" width="5" height="20" fill="#32cd32"/>
<rect x="868" y="246" width="1" height="36" fill="#ff0000"/>
<rect x="866" y="247" width="5" height="5" fill="#ff0000"/>
<rect x="867" y="248" width="3" height="3" fill="#ff4500"/>
<rect x="876" y="226" width="1" height="34" fill="#ff0000"/>
<rect x="874" y="237" width="5" height="11" fill="#ff0000"/>
<rect x="875" y="238" width="3" height="9" fill="#ff4500"/>
<rect x="884" y="165" width="1" height="76" fill="#ff0000"/>
<rect x="882" y="183" width="5" height="55" fill="#ff0000"/>
<rect x="883" y="184" width="3" height="53" fill="#ff4500"/>
<rect x="892" y="175" width="1" height="14" fill="#ff0000"/>
<rect x="890" y="179" width="5" height="3" fill="#ff0000"/>
<rect x="891" y="180" width="3" height="1" fill="#ff4500"/>
<rect x="900" y="157" width="1" height="23" fill="#ff0000"/>
<rect x="898" y="164" width="5" height="16" fill="#ff0000"/>
<rect x="899" y="165" width="3" height="14" fill="#ff4500"/>
<rect x="908" y="164" width="1" height="25" fill="#32cd32"/>
<rect x="906" y="164" width="5" height="25" fill="#32cd32"/>
<rect x="916" y="178" width="1" height="14" fill="#ff0000"/>
<rect x="914" y="180" width="5" height="8" fill="#ff0000"/>
<rect x="915" y="181" width="3" height="6" fill="#ff4500"/>
<rect x="463" y="109" width="522" height="2" fill="#ff1f1f"/>
<rect x="473" y="238" width="512" height="2" fill="#8dc600"/>
<rect x="344" y="345" width="650" height="2" fill="#1e86e0"/>
</g>
<g clip-path="url(#cd)" shape-rendering="crispEdges">
<rect x="3" y="460" width="3" height="11" fill="#c0c0c0"/>
<rect x="11" y="461" width="3" height="10" fill="#c0c0c0"/>
<rect x="19" y="461" width="3" height="10" fill="#c0c0c0"/>
<rect x="27" y="457" width="3" height="14" fill="#c0c0c0"/>
<rect x="35" y="452" width="3" height="19" fill="#c0c0c0"/>
<rect x="43" y="453" width="3" height="18" fill="#c0c0c0"/>
<rect x="51" y="456" width="3" height="15" fill="#c0c0c0"/>
<rect x="59" y="460" width="3" height="11" fill="#c0c0c0"/>
<rect x="67" y="465" width="3" height="6" fill="#c0c0c0"/>
<rect x="75" y="466" width="3" height="5" fill="#c0c0c0"/>
<rect x="83" y="467" width="3" height="4" fill="#c0c0c0"/>
<rect x="91" y="465" width="3" height="6" fill="#c0c0c0"/>
<rect x="99" y="462" width="3" height="9" fill="#c0c0c0"/>
<rect x="107" y="460" width="3" height="11" fill="#c0c0c0"/>
<rect x="115" y="457" width="3" height="14" fill="#c0c0c0"/>
<rect x="123" y="455" width="3" height="16" fill="#c0c0c0"/>
<rect x="131" y="454" width="3" height="17" fill="#c0c0c0"/>
<rect x="139" y="449" width="3" height="22" fill="#c0c0c0"/>
<rect x="147" y="443" width="3" height="28" fill="#c0c0c0"/>
<rect x="155" y="442" width="3" height="29" fill="#c0c0c0"/>
<rect x="163" y="441" width="3" height="30" fill="#c0c0c0"/>
<rect x="171" y="442" width="3" height="29" fill="#c0c0c0"/>
<rect x="179" y="441" width="3" height="30" fill="#c0c0c0"/>
<rect x="187" y="441" width="3" height="30" fill="#c0c0c0"/>
<rect x="195" y="443" width="3" height="28" fill="#c0c0c0"/>
<rect x="203" y="445" width="3" height="26" fill="#c0c0c0"/>
<rect x="211" y="446" width="3" height="25" fill="#c0c0c0"/>
<rect x="219" y="447" width="3" height="24" fill="#c0c0c0"/>
<rect x="227" y="450" width="3" height="21" fill="#c0c0c0"/>
<rect x="235" y="458" width="3" height="13" fill="#c0c0c0"/>
<rect x="243" y="463" width="3" height="8" fill="#c0c0c0"/>
<rect x="251" y="463" width="3" height="8" fill="#c0c0c0"/>
<rect x="259" y="461" width="3" height="10" fill="#c0c0c0"/>
<rect x="267" y="463" width="3" height="8" fill="#c0c0c0"/>
<rect x="275" y="456" width="3" height="15" fill="#c0c0c0"/>
<rect x="283" y="443" width="3" height="28" fill="#c0c0c0"/>
<rect x="291" y="437" width="3" height="34" fill="#c0c0c0"/>
<rect x="299" y="433" width="3" height="38" fill="#c0c0c0"/>
<rect x="307" y="432" width="3" height="39" fill="#c0c0c0"/>
<rect x="315" y="436" width="3" height="35" fill="#c0c0c0"/>
<rect x="323" y="440" width="3" height="31" fill="#c0c0c0"/>
<rect x="331" y="445" width="3" height="26" fill="#c0c0c0"/>
<rect x="339" y="449" width="3" height="22" fill="#c0c0c0"/>
<rect x="347" y="455" width="3" height="16" fill="#c0c0c0"/>
<rect x="355" y="459" width="3" height="12" fill="#c0c0c0"/>
<rect x="363" y="464" width="3" height="7" fill="#c0c0c0"/>
<rect x="371" y="470" width="3" height="1" fill="#c0c0c0"/>
<rect x="379" y="471" width="3" height="4" fill="#c0c0c0"/>
<rect x="387" y="471" width="3" height="7" fill="#c0c0c0"/>
<rect x="395" y="471" width="3" height="8" fill="#c0c0c0"/>
<rect x="403" y="471" width="3" height="5" fill="#c0c0c0"/>
<rect x="411" y="471" width="3" height="1" fill="#c0c0c0"/>
<rect x="419" y="470" width="3" height="1" fill="#c0c0c0"/>
<rect x="427" y="466" width="3" height="5" fill="#c0c0c0"/>
<rect x="435" y="463" width="3" height="8" fill="#c0c0c0"/>
<rect x="443" y="459" width="3" height="12" fill="#c0c0c0"/>
<rect x="451" y="455" width="3" height="16" fill="#c0c0c0"/>
<rect x="459" y="450" width="3" height="21" fill="#c0c0c0"/>
<rect x="467" y="447" width="3" height="24" fill="#c0c0c0"/>
<rect x="475" y="451" width="3" height="20" fill="#c0c0c0"/>
<rect x="483" y="456" width="3" height="15" fill="#c0c0c0"/>
<rect x="491" y="460" width="3" height="11" fill="#c0c0c0"/>
<rect x="499" y="467" width="3" height="4" fill="#c0c0c0"/>
<rect x="507" y="471" width="3" height="5" fill="#c0c0c0"/>
<rect x="515" y="471" width="3" height="8" fill="#c0c0c0"/>
<rect x="523" y="471" width="3" height="12" fill="#c0c0c0"/>
<rect x="531" y="471" width="3" height="11" fill="#c0c0c0"/>
<rect x="539" y="471" width="3" height="11" fill="#c0c0c0"/>
<rect x="547" y="471" width="3" height="16" fill="#c0c0c0"/>
<rect x="555" y="471" width="3" height="18" fill="#c0c0c0"/>
<rect x="563" y="471" width="3" height="20" fill="#c0c0c0"/>
<rect x="571" y="471" width="3" height="20" fill="#c0c0c0"/>
<rect x="579" y="471" width="3" height="17" fill="#c0c0c0"/>
<rect x="587" y="471" width="3" height="17" fill="#c0c0c0"/>
<rect x="595" y="471" width="3" height="14" fill="#c0c0c0"/>
<rect x="603" y="471" width="3" height="10" fill="#c0c0c0"/>
<rect x="611" y="471" width="3" height="8" fill="#c0c0c0"/>
<rect x="627" y="464" width="3" height="7" fill="#c0c0c0"/>
<rect x="635" y="462" width="3" height="9" fill="#c0c0c0"/>
<rect x="643" y="459" width="3" height="12" fill="#c0c0c0"/>
<rect x="651" y="458" width="3" height="13" fill="#c0c0c0"/>
<rect x="659" y="457" width="3" height="14" fill="#c0c0c0"/>
<rect x="667" y="458" width="3" height="13" fill="#c0c0c0"/>
<rect x="675" y="466" width="3" height="5" fill="#c0c0c0"/>
<rect x="683" y="471" width="3" height="1" fill="#c0c0c0"/>
<rect x="691" y="471" width="3" height="7" fill="#c0c0c0"/>
<rect x="699" y="471" width="3" height="15" fill="#c0c0c0"/>
<rect x="707" y="471" width="3" height="18" fill="#c0c0c0"/>
<rect x="715" y="471" width="3" height="14" fill="#c0c0c0"/>
<rect x="723" y="471" width="3" height="9" fill="#c0c0c0"/>
<rect x="731" y="471" width="3" height="1" fill="#c0c0c0"/>
<rect x="739" y="467" width="3" height="4" fill="#c0c0c0"/>
<rect x="747" y="462" width="3" height="9" fill="#c0c0c0"/>
<rect x="755" y="461" width="3" height="10" fill="#c0c0c0"/>
<rect x="763" y="457" width="3" height="14" fill="#c0c0c0"/>
<rect x="771" y="456" width="3" height="15" fill="#c0c0c0"/>
<rect x="779" y="456" width="3" height="15" fill="#c0c0c0"/>
<rect x="787" y="458" width="3" height="13" fill="#c0c0c0"/>
<rect x="795" y="459" width="3" height="12" fill="#c0c0c0"/>
<rect x="803" y="458" width="3" height="13" fill="#c0c0c0"/>
<rect x="811" y="457" width="3" height="14" fill="#c0c0c0"/>
<rect x="819" y="455" width="3" height="16" fill="#c0c0c0"/>
<rect x="827" y="456" width="3" height="15" fill="#c0c0c0"/>
<rect x="835" y="460" width="3" height="11" fill="#c0c0c0"/>
<rect x="843" y="464" width="3" height="7" fill="#c0c0c0"/>
<rect x="851" y="466" width="3" height="5" fill="#c0c0c0"/>
<rect x="859" y="469" width="3" height="2" fill="#c0c0c0"/>
<rect x="875" y="471" width="3" height="1" fill="#c0c0c0"/>
<rect x="883" y="468" width="3" height="3" fill="#c0c0c0"/>
<rect x="891" y="465" width="3" height="6" fill="#c0c0c0"/>
<rect x="899" y="462" width="3" height="9" fill="#c0c0c0"/>
<rect x="907" y="461" width="3" height="10" fill="#c0c0c0"/>
<rect x="915" y="460" width="3" height="11" fill="#c0c0c0"/>
<path d="M6 463h4v1h-4zM394 463h2v1h-2zM465 463h2v1h-2zM523 463h2v1h-2zM680 463h8v1h-8zM787 463h3v1h-3zM872 463h6v1h-6zM578 486h6v1h-6zM608 486h8v1h-8zM543 473h2v1h-2zM648 473h3v1h-3zM718 473h2v1h-2zM763 473h3v1h-3zM14 461h4v1h-4zM104 461h8v1h-8zM128 461h6v1h-6zM391 461h1v1h-1zM470 461h2v1h-2zM518 461h2v1h-2zM794 461h4v1h-4zM862 461h4v1h-4zM563 482h3v1h-3zM627 482h3v1h-3zM30 458h4v1h-4zM64 458h8v1h-8zM142 458h4v1h-4zM385 458h2v1h-2zM480 458h6v1h-6zM506 458h4v1h-4zM808 458h8v1h-8zM840 458h8v1h-8zM200 443h24v1h-24zM330 443h4v1h-4zM354 443h4v1h-4zM158 453h2v1h-2zM258 453h4v1h-4zM298 453h4v1h-4zM376 453h2v1h-2zM24 459h6v1h-6zM72 459h8v1h-8zM138 459h4v1h-4zM387 459h2v1h-2zM475 459h5v1h-5zM510 459h4v1h-4zM802 459h6v1h-6zM848 459h8v1h-8zM18 460h6v1h-6zM80 460h24v1h-24zM134 460h4v1h-4zM389 460h2v1h-2zM472 460h3v1h-3zM514 460h4v1h-4zM798 460h4v1h-4zM856 460h6v1h-6zM10 462h4v1h-4zM112 462h16v1h-16zM392 462h2v1h-2zM467 462h3v1h-3zM520 462h3v1h-3zM790 462h4v1h-4zM866 462h6v1h-6zM424 472h16v1h-16zM541 472h2v1h-2zM651 472h2v1h-2zM715 472h3v1h-3zM766 472h2v1h-2zM552 477h3v1h-3zM639 477h2v1h-2zM736 477h16v1h-16zM584 487h24v1h-24zM406 468h2v1h-2zM454 468h2v1h-2zM533 468h2v1h-2zM659 468h3v1h-3zM704 468h3v1h-3zM775 468h2v1h-2zM545 474h2v1h-2zM646 474h2v1h-2zM720 474h3v1h-3zM760 474h3v1h-3zM155 454h3v1h-3zM262 454h4v1h-4zM294 454h4v1h-4zM378 454h2v1h-2zM34 457h6v1h-6zM56 457h8v1h-8zM146 457h4v1h-4zM383 457h2v1h-2zM486 457h4v1h-4zM502 457h4v1h-4zM816 457h24v1h-24zM550 476h2v1h-2zM641 476h2v1h-2zM728 476h8v1h-8zM752 476h6v1h-6zM182 446h4v1h-4zM234 446h4v1h-4zM318 446h4v1h-4zM363 446h2v1h-2zM40 456h16v1h-16zM150 456h2v1h-2zM272 456h16v1h-16zM381 456h2v1h-2zM490 456h12v1h-12zM574 485h4v1h-4zM616 485h6v1h-6zM398 465h2v1h-2zM461 465h2v1h-2zM527 465h2v1h-2zM667 465h5v1h-5zM694 465h4v1h-4zM782 465h2v1h-2zM882 465h6v1h-6zM160 452h3v1h-3zM254 452h4v1h-4zM302 452h2v1h-2zM375 452h1v1h-1zM559 480h2v1h-2zM632 480h3v1h-3zM411 470h5v1h-5zM446 470h4v1h-4zM537 470h2v1h-2zM655 470h2v1h-2zM710 470h2v1h-2zM771 470h2v1h-2zM400 466h3v1h-3zM459 466h2v1h-2zM529 466h2v1h-2zM664 466h3v1h-3zM698 466h4v1h-4zM779 466h3v1h-3zM888 466h29v1h-29zM170 449h4v1h-4zM246 449h2v1h-2zM310 449h2v1h-2zM369 449h2v1h-2zM4 464h2v1h-2zM396 464h2v1h-2zM463 464h2v1h-2zM525 464h2v1h-2zM672 464h8v1h-8zM688 464h6v1h-6zM784 464h3v1h-3zM878 464h4v1h-4zM566 483h4v1h-4zM624 483h3v1h-3zM192 444h8v1h-8zM224 444h6v1h-6zM326 444h4v1h-4zM358 444h2v1h-2zM570 484h4v1h-4zM622 484h2v1h-2zM416 471h8v1h-8zM440 471h6v1h-6zM539 471h2v1h-2zM653 471h2v1h-2zM712 471h3v1h-3zM768 471h3v1h-3zM557 479h2v1h-2zM635 479h2v1h-2zM163 451h3v1h-3zM251 451h3v1h-3zM304 451h3v1h-3zM373 451h2v1h-2zM178 447h4v1h-4zM238 447h4v1h-4zM315 447h3v1h-3zM365 447h2v1h-2zM547 475h3v1h-3zM643 475h3v1h-3zM723 475h5v1h-5zM758 475h2v1h-2zM186 445h6v1h-6zM230 445h4v1h-4zM322 445h4v1h-4zM360 445h3v1h-3zM403 467h3v1h-3zM456 467h3v1h-3zM531 467h2v1h-2zM662 467h2v1h-2zM702 467h2v1h-2zM777 467h2v1h-2zM334 442h4v1h-4zM350 442h4v1h-4zM166 450h4v1h-4zM248 450h3v1h-3zM307 450h3v1h-3zM371 450h2v1h-2zM152 455h3v1h-3zM266 455h6v1h-6zM288 455h6v1h-6zM380 455h1v1h-1zM561 481h2v1h-2zM630 481h2v1h-2zM338 441h12v1h-12zM174 448h4v1h-4zM242 448h4v1h-4zM312 448h3v1h-3zM367 448h2v1h-2zM408 469h3v1h-3zM450 469h4v1h-4zM535 469h2v1h-2zM657 469h2v1h-2zM707 469h3v1h-3zM773 469h2v1h-2zM555 478h2v1h-2zM637 478h2v1h-2z" fill="#ff0000"/>
</g>
<g clip-path="url(#cr)" shape-rendering="crispEdges">
<line x1="5" y1="523.5" x2="1166" y2="523.5" stroke="#c0c0c0" stroke-dasharray="3,3"/>
<line x1="5" y1="556.5" x2="1166" y2="556.5" stroke="#c0c0c0" stroke-dasharray="3,3"/>
<path d="M21 536h2v1h-2zM43 536h1v1h-1zM91 536h3v1h-3zM223 536h1v1h-1zM258 536h3v1h-3zM271 536h1v1h-1zM313 536h1v1h-1zM408 536h3v1h-3zM416 536h8v1h-8zM473 536h1v1h-1zM615 536h1v1h-1zM635 536h3v1h-3zM650 536h12v1h-12zM725 536h2v1h-2zM755 536h3v1h-3zM771 536h3v1h-3zM802 536h12v1h-12zM824 536h3v1h-3zM882 536h1v1h-1zM907 536h5v1h-5zM14 538h4v1h-4zM45 538h2v1h-2zM86 538h2v1h-2zM226 538h2v1h-2zM252 538h2v1h-2zM263 538h2v1h-2zM270 538h1v1h-1zM316 538h10v1h-10zM403 538h3v1h-3zM475 538h1v1h-1zM600 538h3v1h-3zM606 538h4v1h-4zM613 538h1v1h-1zM664 538h3v1h-3zM716 538h4v1h-4zM778 538h6v1h-6zM792 538h6v1h-6zM829 538h1v1h-1zM879 538h1v1h-1zM24 534h2v1h-2zM41 534h1v1h-1zM98 534h6v1h-6zM112 534h6v1h-6zM130 534h3v1h-3zM193 534h2v1h-2zM208 534h13v1h-13zM273 534h1v1h-1zM310 534h2v1h-2zM432 534h6v1h-6zM472 534h1v1h-1zM618 534h1v1h-1zM631 534h2v1h-2zM642 534h4v1h-4zM729 534h2v1h-2zM734 534h4v1h-4zM742 534h4v1h-4zM750 534h2v1h-2zM760 534h3v1h-3zM766 534h2v1h-2zM818 534h4v1h-4zM884 534h10v1h-10zM903 534h2v1h-2zM504 550h2v1h-2zM510 550h1v1h-1zM695 550h2v1h-2zM703 550h2v1h-2zM140 528h2v1h-2zM150 528h1v1h-1zM278 528h2v1h-2zM290 528h2v1h-2zM458 528h6v1h-6zM235 547h1v1h-1zM237 547h2v1h-2zM376 547h8v1h-8zM500 547h1v1h-1zM514 547h1v1h-1zM520 547h3v1h-3zM525 547h1v1h-1zM548 547h2v1h-2zM680 547h8v1h-8zM709 547h1v1h-1zM503 549h1v1h-1zM511 549h1v1h-1zM693 549h2v1h-2zM705 549h2v1h-2zM26 533h2v1h-2zM40 533h1v1h-1zM118 533h4v1h-4zM126 533h4v1h-4zM133 533h1v1h-1zM156 533h4v1h-4zM168 533h8v1h-8zM191 533h2v1h-2zM274 533h1v1h-1zM309 533h1v1h-1zM438 533h2v1h-2zM471 533h1v1h-1zM619 533h1v1h-1zM629 533h2v1h-2zM731 533h3v1h-3zM746 533h4v1h-4zM763 533h3v1h-3zM894 533h4v1h-4zM901 533h2v1h-2zM51 541h11v1h-11zM75 541h3v1h-3zM230 541h1v1h-1zM248 541h1v1h-1zM343 541h2v1h-2zM354 541h4v1h-4zM397 541h2v1h-2zM478 541h4v1h-4zM531 541h1v1h-1zM534 541h4v1h-4zM577 541h2v1h-2zM582 541h2v1h-2zM592 541h3v1h-3zM670 541h1v1h-1zM714 541h1v1h-1zM833 541h1v1h-1zM874 541h3v1h-3zM28 532h2v1h-2zM39 532h1v1h-1zM122 532h4v1h-4zM134 532h2v1h-2zM155 532h1v1h-1zM160 532h8v1h-8zM176 532h8v1h-8zM189 532h2v1h-2zM274 532h1v1h-1zM307 532h2v1h-2zM440 532h3v1h-3zM470 532h1v1h-1zM620 532h9v1h-9zM898 532h3v1h-3zM23 535h1v1h-1zM42 535h1v1h-1zM94 535h4v1h-4zM104 535h8v1h-8zM195 535h13v1h-13zM221 535h2v1h-2zM272 535h1v1h-1zM312 535h1v1h-1zM411 535h5v1h-5zM424 535h8v1h-8zM472 535h1v1h-1zM616 535h2v1h-2zM633 535h2v1h-2zM638 535h4v1h-4zM646 535h4v1h-4zM727 535h2v1h-2zM738 535h4v1h-4zM752 535h3v1h-3zM758 535h2v1h-2zM768 535h3v1h-3zM814 535h4v1h-4zM822 535h2v1h-2zM883 535h1v1h-1zM905 535h2v1h-2zM912 535h5v1h-5zM234 546h1v1h-1zM239 546h2v1h-2zM370 546h6v1h-6zM384 546h5v1h-5zM498 546h2v1h-2zM515 546h1v1h-1zM518 546h2v1h-2zM526 546h1v1h-1zM546 546h2v1h-2zM550 546h4v1h-4zM560 546h6v1h-6zM676 546h4v1h-4zM710 546h1v1h-1zM18 537h3v1h-3zM44 537h1v1h-1zM88 537h3v1h-3zM224 537h2v1h-2zM254 537h4v1h-4zM261 537h2v1h-2zM270 537h1v1h-1zM314 537h2v1h-2zM406 537h2v1h-2zM474 537h1v1h-1zM603 537h3v1h-3zM614 537h1v1h-1zM662 537h2v1h-2zM720 537h5v1h-5zM774 537h4v1h-4zM798 537h4v1h-4zM827 537h2v1h-2zM880 537h2v1h-2zM62 542h2v1h-2zM72 542h3v1h-3zM231 542h1v1h-1zM246 542h2v1h-2zM345 542h2v1h-2zM350 542h4v1h-4zM358 542h2v1h-2zM395 542h2v1h-2zM482 542h11v1h-11zM530 542h1v1h-1zM538 542h3v1h-3zM575 542h2v1h-2zM584 542h3v1h-3zM590 542h2v1h-2zM671 542h1v1h-1zM713 542h1v1h-1zM834 542h2v1h-2zM848 542h8v1h-8zM870 542h4v1h-4zM8 539h6v1h-6zM47 539h2v1h-2zM82 539h4v1h-4zM228 539h1v1h-1zM250 539h2v1h-2zM265 539h2v1h-2zM269 539h1v1h-1zM326 539h4v1h-4zM336 539h5v1h-5zM401 539h2v1h-2zM475 539h1v1h-1zM598 539h2v1h-2zM610 539h3v1h-3zM667 539h2v1h-2zM715 539h1v1h-1zM784 539h8v1h-8zM830 539h2v1h-2zM878 539h1v1h-1zM233 545h1v1h-1zM241 545h2v1h-2zM366 545h4v1h-4zM389 545h2v1h-2zM496 545h2v1h-2zM516 545h2v1h-2zM527 545h1v1h-1zM544 545h2v1h-2zM554 545h6v1h-6zM566 545h4v1h-4zM675 545h1v1h-1zM710 545h1v1h-1zM236 548h1v1h-1zM501 548h2v1h-2zM512 548h2v1h-2zM523 548h2v1h-2zM688 548h5v1h-5zM707 548h2v1h-2zM64 543h3v1h-3zM70 543h2v1h-2zM232 543h1v1h-1zM245 543h1v1h-1zM347 543h3v1h-3zM360 543h3v1h-3zM393 543h2v1h-2zM493 543h2v1h-2zM529 543h1v1h-1zM541 543h2v1h-2zM573 543h2v1h-2zM587 543h3v1h-3zM672 543h2v1h-2zM712 543h1v1h-1zM836 543h12v1h-12zM856 543h14v1h-14zM30 531h2v1h-2zM38 531h1v1h-1zM136 531h1v1h-1zM154 531h1v1h-1zM184 531h5v1h-5zM275 531h1v1h-1zM304 531h3v1h-3zM443 531h5v1h-5zM469 531h1v1h-1zM4 540h4v1h-4zM49 540h2v1h-2zM78 540h4v1h-4zM229 540h1v1h-1zM249 540h1v1h-1zM267 540h2v1h-2zM330 540h6v1h-6zM341 540h2v1h-2zM399 540h2v1h-2zM476 540h2v1h-2zM532 540h2v1h-2zM579 540h3v1h-3zM595 540h3v1h-3zM669 540h1v1h-1zM714 540h1v1h-1zM832 540h1v1h-1zM877 540h1v1h-1zM506 551h2v1h-2zM509 551h1v1h-1zM697 551h2v1h-2zM701 551h2v1h-2zM35 529h2v1h-2zM138 529h2v1h-2zM151 529h1v1h-1zM277 529h1v1h-1zM292 529h10v1h-10zM454 529h4v1h-4zM464 529h5v1h-5zM146 526h3v1h-3zM281 526h1v1h-1zM287 526h1v1h-1zM32 530h3v1h-3zM37 530h1v1h-1zM137 530h1v1h-1zM152 530h2v1h-2zM276 530h1v1h-1zM302 530h2v1h-2zM448 530h6v1h-6zM469 530h1v1h-1zM142 527h4v1h-4zM149 527h1v1h-1zM280 527h1v1h-1zM288 527h2v1h-2zM67 544h3v1h-3zM232 544h1v1h-1zM243 544h2v1h-2zM363 544h3v1h-3zM391 544h2v1h-2zM495 544h1v1h-1zM528 544h1v1h-1zM543 544h1v1h-1zM570 544h3v1h-3zM674 544h1v1h-1zM711 544h1v1h-1zM282 525h2v1h-2zM285 525h2v1h-2zM508 552h1v1h-1zM699 552h2v1h-2zM284 524h1v1h-1z" fill="#1e90ff"/>
</g>
<rect x="0" y="24" width="1211" height="1" fill="#a0a0a0"/>
<rect x="0" y="25" width="1211" height="1" fill="#696969"/>
<rect x="0" y="24" width="1" height="578" fill="#696969"/>
<rect x="3.5" y="28.5" width="1163" height="397" fill="none" stroke="#000"/>
<rect x="3.5" y="427.5" width="1163" height="68" fill="none" stroke="#000"/>
<rect x="3.5" y="497.5" width="1163" height="84" fill="none" stroke="#000"/>
<rect x="1167" y="57" width="2" height="1" fill="#000"/>
<rect x="1167" y="90" width="2" height="1" fill="#000"/>
<rect x="1167" y="123" width="2" height="1" fill="#000"/>
<rect x="1167" y="157" width="2" height="1" fill="#000"/>
<rect x="1167" y="190" width="2" height="1" fill="#000"/>
<rect x="1167" y="223" width="2" height="1" fill="#000"/>
<rect x="1167" y="256" width="2" height="1" fill="#000"/>
<rect x="1167" y="289" width="2" height="1" fill="#000"/>
<rect x="1167" y="322" width="2" height="1" fill="#000"/>
<rect x="1167" y="356" width="2" height="1" fill="#000"/>
<rect x="1167" y="389" width="2" height="1" fill="#000"/>
<rect x="1167" y="422" width="2" height="1" fill="#000"/>
<rect x="1167" y="429" width="2" height="1" fill="#000"/>
<rect x="1167" y="471" width="2" height="1" fill="#000"/>
<rect x="1167" y="494" width="2" height="1" fill="#000"/>
<rect x="1167" y="499" width="2" height="1" fill="#000"/>
<rect x="1167" y="580" width="2" height="1" fill="#000"/>
<rect x="4" y="582" width="1" height="3" fill="#000"/>
<rect x="68" y="582" width="1" height="3" fill="#000"/>
<rect x="132" y="582" width="1" height="3" fill="#000"/>
<rect x="196" y="582" width="1" height="3" fill="#000"/>
<rect x="260" y="582" width="1" height="3" fill="#000"/>
<rect x="324" y="582" width="1" height="3" fill="#000"/>
<rect x="388" y="582" width="1" height="3" fill="#000"/>
<rect x="452" y="582" width="1" height="3" fill="#000"/>
<rect x="516" y="582" width="1" height="3" fill="#000"/>
<rect x="580" y="582" width="1" height="3" fill="#000"/>
<rect x="644" y="582" width="1" height="3" fill="#000"/>
<rect x="708" y="582" width="1" height="3" fill="#000"/>
<rect x="772" y="582" width="1" height="3" fill="#000"/>
<rect x="836" y="582" width="1" height="3" fill="#000"/>
<rect x="900" y="582" width="1" height="3" fill="#000"/>
<polygon points="6.5,39 10.5,35 14.5,39" fill="#000"/>
</svg>
<div class="ct" style="left:20px;top:30px">AUDUSD,H4&nbsp; 0.71190 0.71226 0.71181 0.71217</div>
<div class="ct" style="left:8px;top:430px">MACD(12,26,9) 0.000392 0.000174</div>
<div class="ct" style="left:8px;top:500px">RSI(14) 55.8759</div>
<div class="pl" style="top:52px">0.71645</div><div class="pl" style="top:85px">0.71530</div><div class="pl" style="top:118px">0.71415</div><div class="pl" style="top:152px">0.71300</div><div class="pl" style="top:185px">0.71185</div><div class="pl" style="top:218px">0.71070</div><div class="pl" style="top:251px">0.70955</div><div class="pl" style="top:284px">0.70840</div><div class="pl" style="top:317px">0.70725</div><div class="pl" style="top:351px">0.70610</div><div class="pl" style="top:384px">0.70495</div><div class="pl" style="top:417px">0.70380</div><div class="tl" style="left:3px">13 Mar 2019</div><div class="tl" style="left:67px">14 Mar 18:00</div><div class="tl" style="left:131px">16 Mar 00:00</div><div class="tl" style="left:195px">19 Mar 10:00</div><div class="tl" style="left:259px">20 Mar 18:00</div><div class="tl" style="left:323px">22 Mar 00:00</div><div class="tl" style="left:387px">25 Mar 11:00</div><div class="tl" style="left:451px">26 Mar 18:00</div><div class="tl" style="left:515px">28 Mar 00:00</div><div class="tl" style="left:579px">29 Mar 10:00</div><div class="tl" style="left:643px">1 Apr 19:00</div><div class="tl" style="left:707px">3 Apr 00:00</div><div class="tl" style="left:771px">4 Apr 10:00</div><div class="tl" style="left:835px">5 Apr 18:00</div><div class="tl" style="left:899px">9 Apr 00:00</div>
<div class="abs" style="left:1168px;top:175px;width:41px;height:11px;background:#000"></div>
<div class="pl" style="top:175px;color:#fff">0.71217</div>
<div class="pl" style="top:429px;left:1170px">0.001538</div>
<div class="pl" style="top:466px;left:1170px">0.00</div>
<div class="pl" style="top:483px;left:1170px">-0.000835</div>
<div class="pl" style="top:499px;left:1170px">100</div>
<div class="pl" style="top:518px;left:1170px">70</div>
<div class="pl" style="top:551px;left:1170px">30</div>
<div class="pl" style="top:569px;left:1170px">0</div>
<!-- trade panel -->
<div class="abs" style="left:7px;top:48px;width:52px;height:24px;background:linear-gradient(#5a5af6,#3a3ae6)"></div>
<div class="abs" style="left:175px;top:48px;width:51px;height:24px;background:linear-gradient(#5a5af6,#3a3ae6)"></div>
<div class="abs" style="left:7px;top:72px;width:109px;height:40px;background:linear-gradient(#3636f2,#0606b4)"></div>
<div class="abs" style="left:118px;top:72px;width:108px;height:40px;background:linear-gradient(#3636f2,#0606b4)"></div>
<div class="abs" style="left:11px;top:72px;width:45px;height:1px;background:#8c8cf8"></div>
<div class="abs" style="left:178px;top:72px;width:45px;height:1px;background:#8c8cf8"></div>
<div class="abs" style="left:61px;top:48px;width:113px;height:22px;background:#fff;border:1px solid #b4b4b4"></div>
<div class="abs" style="left:62px;top:49px;width:21px;height:20px;background:linear-gradient(#f0f0f0,#d2d2d2);border:1px solid #c8c8c8"></div>
<div class="abs" style="left:151px;top:49px;width:22px;height:20px;background:linear-gradient(#f0f0f0,#d2d2d2);border:1px solid #c8c8c8"></div>
<svg class="abs" style="left:0;top:0" width="230" height="120"><polygon points="69.5,57 74.5,57 72,60" fill="#5a6ab0"/><polygon points="158.5,60 163.5,60 161,57" fill="#5a6ab0"/></svg>
<div class="abs" style="left:123px;top:52px;font-size:12px;line-height:14px">5.00</div>
<div class="abs" style="left:19px;top:53px;font-size:12px;letter-spacing:-0.5px;line-height:14px;color:#e8e8ff">SELL</div>
<div class="abs" style="left:187px;top:53px;font-size:12px;line-height:14px;color:#e8e8ff">BUY</div>
<div class="pb" style="left:26px;top:92px">0.71</div>
<div class="big" style="left:54px;top:77px">21</div>
<div class="pb" style="left:94px;top:76px">7</div>
<div class="pb" style="left:137px;top:92px">0.71</div>
<div class="big" style="left:165px;top:77px">23</div>
<div class="pb" style="left:205px;top:76px">5</div>
<!-- tabs -->
<div id="tabs">
<div class="abs" style="left:0;top:0;width:1211px;height:1px;background:#e3e3e3"></div>
<div class="abs" style="left:0;top:2px;width:1211px;height:1px;background:#000"></div>
<div class="abs" style="left:0;top:21px;width:1211px;height:2px;background:#f8f8f8"></div>
<div class="abs" style="left:0;top:3px;width:1px;height:18px;background:#555"></div>
<div class="tab" style="left:17px">EURUSD,H4</div>
<div class="abs" style="left:97px;top:2px;width:92px;height:19px;background:#fff;border:1px solid #000;border-top:none"></div>
<div class="tab" style="left:109px;color:#000">AUDUSD,H4</div>
<div class="tab" style="left:199px">USDCHF,Daily</div>
<div class="sep" style="left:289px"></div>
<div class="tab" style="left:299px">USDCAD,Weekly</div>
<div class="sep" style="left:405px"></div>
<div class="tab" style="left:415px">USDCNH,Daily</div>
<div class="sep" style="left:509px"></div>
<div class="tab" style="left:519px">USDJPY,Daily</div>
<div class="sep" style="left:605px"></div>
<div class="tab" style="left:616px">XAUUSD,H1</div>
<div class="sep" style="left:697px"></div>
<div class="tab" style="left:709px">GBPUSD,H4</div>
<div class="sep" style="left:789px"></div>
<div class="tab" style="left:801px">SP500,M15</div>
<div class="sep" style="left:877px"></div>
<div class="tab" style="left:888px">GBPUSD,M30</div>
<div class="sep" style="left:977px"></div>
<div class="tab" style="left:988px">DJ30,H4</div>
<div class="sep" style="left:1046px"></div>
<div class="tab" style="left:1055px">TECH100,H1</div>
<div class="sep" style="left:1137px"></div>
<div class="tab" style="left:1149px">UKO</div>
<svg class="abs" style="left:1176px;top:0" width="35" height="22"><polygon points="9,8 6,11 9,14" fill="#a0a0a0"/><polygon points="25,7 29,11 25,15" fill="#000"/></svg>
</div>
</body></html>
